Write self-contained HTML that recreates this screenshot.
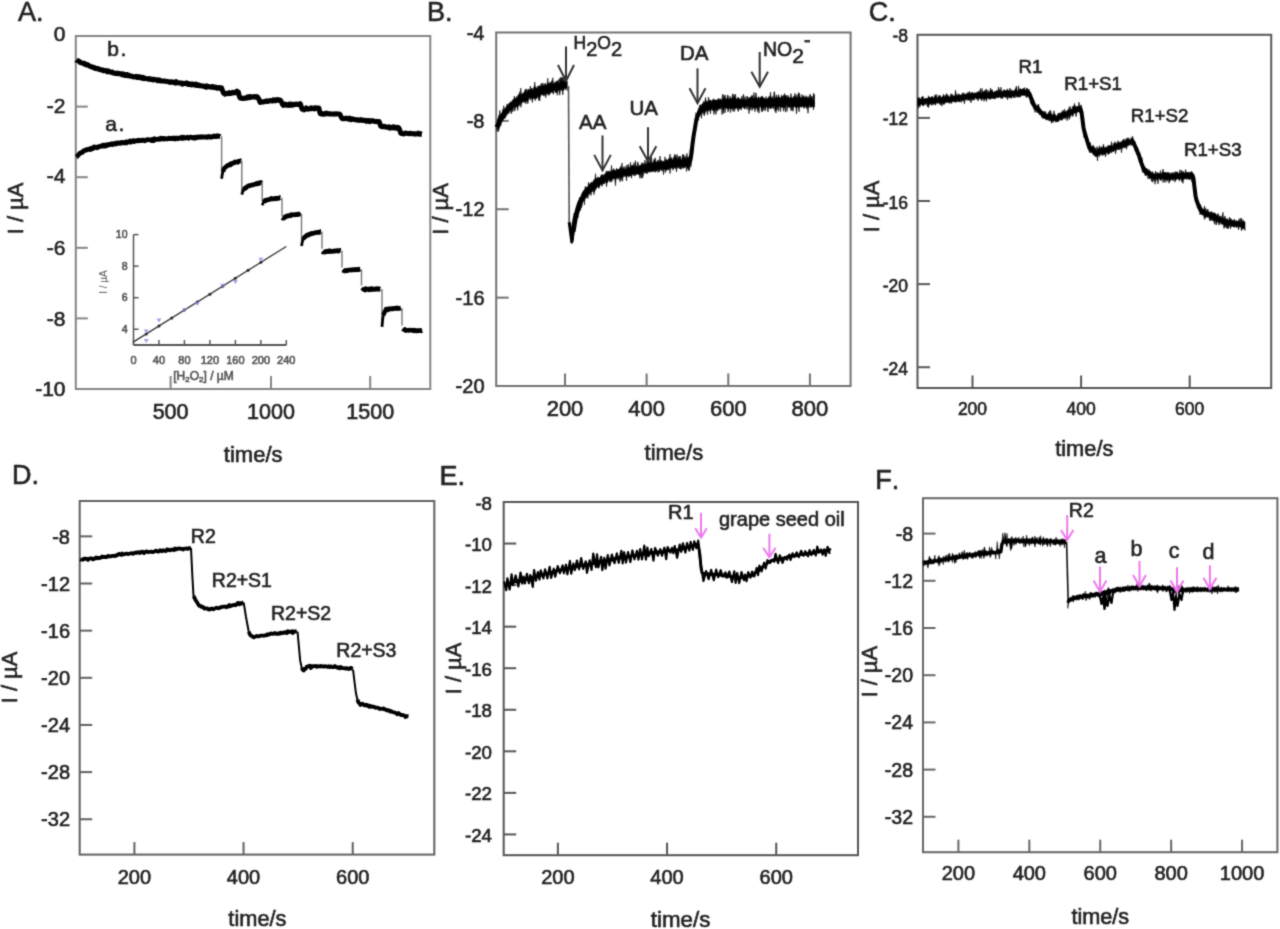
<!DOCTYPE html>
<html><head><meta charset="utf-8"><style>
html,body{margin:0;padding:0;background:#fff;}
svg{display:block;font-family:"Liberation Sans", sans-serif;font-kerning:none;}
text{stroke-width:0.6px;}
</style></head><body>
<svg width="1280" height="929" viewBox="0 0 1280 929">
<defs><filter id="bl" x="0" y="0" width="1280" height="929" filterUnits="userSpaceOnUse"><feConvolveMatrix order="3" kernelMatrix="1 4.0 1 4.0 16.0 4.0 1 4.0 1" edgeMode="duplicate" preserveAlpha="false"/></filter></defs>
<rect width="1280" height="929" fill="#fff"/>
<g filter="url(#bl)">
<text x="18" y="21.2" font-size="27" text-anchor="start" fill="#222" stroke="#222" >A.</text>
<rect x="75.8" y="36" width="354.5" height="353" fill="none" stroke="#858585" stroke-width="2"/>
<text x="65.5" y="41.16" font-size="21" text-anchor="end" fill="#222" stroke="#222" >0</text>
<line x1="75.8" y1="106.6" x2="87.8" y2="106.6" stroke="#858585" stroke-width="2"/>
<text x="65.5" y="112.66" font-size="21" text-anchor="end" fill="#222" stroke="#222" >-2</text>
<line x1="75.8" y1="177.2" x2="87.8" y2="177.2" stroke="#858585" stroke-width="2"/>
<text x="65.5" y="182.96" font-size="21" text-anchor="end" fill="#222" stroke="#222" >-4</text>
<line x1="75.8" y1="247.8" x2="87.8" y2="247.8" stroke="#858585" stroke-width="2"/>
<text x="65.5" y="254.86" font-size="21" text-anchor="end" fill="#222" stroke="#222" >-6</text>
<line x1="75.8" y1="318.4" x2="87.8" y2="318.4" stroke="#858585" stroke-width="2"/>
<text x="65.5" y="326.26" font-size="21" text-anchor="end" fill="#222" stroke="#222" >-8</text>
<text x="65.5" y="396.26" font-size="21" text-anchor="end" fill="#222" stroke="#222" >-10</text>
<line x1="170.6" y1="389" x2="170.6" y2="376" stroke="#858585" stroke-width="2"/>
<text x="170.6" y="418.5" font-size="21.5" text-anchor="middle" fill="#222" stroke="#222" >500</text>
<line x1="271" y1="389" x2="271" y2="376" stroke="#858585" stroke-width="2"/>
<text x="271" y="418.5" font-size="21.5" text-anchor="middle" fill="#222" stroke="#222" >1000</text>
<line x1="370.2" y1="389" x2="370.2" y2="376" stroke="#858585" stroke-width="2"/>
<text x="370.2" y="418.5" font-size="21.5" text-anchor="middle" fill="#222" stroke="#222" >1500</text>
<text x="253.2" y="462.3" font-size="22" text-anchor="middle" fill="#222" stroke="#222" >time/s</text>
<text x="0" y="0" font-size="21.8" text-anchor="middle" fill="#222" stroke="#222" transform="translate(23.3,208.5) rotate(-90)">I / &#181;A</text>
<path d="M76,59.91 L76.7,60.53 L77.4,60.62 L78.1,60.94 L78.8,61.07 L79.5,61.68 L80.2,62.48 L80.9,62.54 L81.6,63.05 L82.3,63.08 L83,63.43 L83.7,63.66 L84.4,63.31 L85.1,64.49 L85.8,64.67 L86.5,64.97 L87.2,64.5 L87.9,64.79 L88.6,65.39 L89.3,65.84 L90,66.41 L90.7,66.51 L91.4,66.93 L92.1,66.75 L92.8,67.3 L93.5,67.56 L94.2,67.41 L94.9,68.47 L95.6,68.29 L96.3,68.73 L97,68.32 L97.7,68.51 L98.4,68.87 L99.1,69.17 L99.8,69.66 L100.5,69.71 L101.2,69.64 L101.9,69.64 L102.6,69.97 L103.3,70.75 L104,70.22 L104.7,70.76 L105.4,71 L106.1,70.5 L106.8,71.22 L107.5,71.83 L108.2,70.84 L108.9,71.61 L109.6,71.86 L110.3,71.77 L111,72.37 L111.7,72.32 L112.4,71.97 L113.1,72.91 L113.8,72.99 L114.5,73.23 L115.2,73.54 L115.9,73.31 L116.6,73.36 L117.3,73.01 L118,73.82 L118.7,73.53 L119.4,73.72 L120.1,73.58 L120.8,73.82 L121.5,74.11 L122.2,74.89 L122.9,73.87 L123.6,74.21 L124.3,74.94 L125,75.51 L125.7,75.32 L126.4,74.57 L127.1,74.47 L127.8,75.59 L128.5,75.33 L129.2,75.31 L129.9,76.16 L130.6,76.32 L131.3,76.11 L132,76.25 L132.7,76.44 L133.4,76.96 L134.1,76.73 L134.8,76.81 L135.5,76.94 L136.2,76.32 L136.9,77.43 L137.6,77.43 L138.3,77.4 L139,76.64 L139.7,77.23 L140.4,77.85 L141.1,77.03 L141.8,77.71 L142.5,78.23 L143.2,77.52 L143.9,78.65 L144.6,78.38 L145.3,78.24 L146,78.51 L146.7,78.73 L147.4,78.65 L148.1,79.12 L148.8,78.59 L149.5,78.78 L150.2,79.39 L150.9,79.14 L151.6,78.93 L152.3,79.68 L153,79.96 L153.7,79.4 L154.4,79.18 L155.1,79.72 L155.8,79.82 L156.5,79.87 L157.2,80.57 L157.9,79.83 L158.6,80.73 L159.3,79.95 L160,80.22 L160.7,80.81 L161.4,81.07 L162.1,81.06 L162.8,80.97 L163.5,80.99 L164.2,81.08 L164.9,81.31 L165.6,81.14 L166.3,81.38 L167,81.58 L167.7,81.46 L168.4,81.82 L169.1,81.84 L169.8,82.43 L170.5,81.93 L171.2,81.75 L171.9,81.86 L172.6,82.07 L173.3,82.49 L174,82.13 L174.7,82.47 L175.4,83.07 L176.1,81.61 L176.8,82.21 L177.5,82.77 L178.2,82.91 L178.9,82.95 L179.6,82.8 L180.3,83.27 L181,83.22 L181.7,83.03 L182.4,84.15 L183.1,83.51 L183.8,83.28 L184.5,83.53 L185.2,83.57 L185.9,83.72 L186.6,82.87 L187.3,83.74 L188,84.35 L188.7,83.68 L189.4,84.15 L190.1,84.6 L190.8,84.65 L191.5,84.96 L192.2,83.93 L192.9,84.49 L193.6,84.58 L194.3,85.01 L195,85.26 L195.7,84.02 L196.4,85.43 L197.1,84.63 L197.8,85.46 L198.5,84.79 L199.2,85.46 L199.9,85.91 L200.6,85.52 L201.3,85.73 L202,86.04 L202.7,85.9 L203.4,85.91 L204.1,86.56 L204.8,86.48 L205.5,86.1 L206.2,87.26 L206.9,85.98 L207.6,86.8 L208.3,86.47 L209,86.7 L209.7,86.99 L210.4,86.91 L211.1,87.15 L211.8,86.48 L212.5,86.58 L213.2,87.41 L213.9,86.95 L214.6,87.02 L215.3,86.95 L216,88 L216.7,87.91 L217.4,88.25 L218.1,87.5 L218.8,87.92 L219.5,87.61 L220.2,88.36 L220.9,88.74 L221.6,87.96 L222.3,90.18 L223,91.85 L223.7,93.3 L224.4,93.14 L225.1,94.21 L225.8,93.59 L226.5,93.3 L227.2,93.55 L227.9,93.45 L228.6,93.73 L229.3,92.74 L230,93.4 L230.7,93.41 L231.4,93.3 L232.1,92.62 L232.8,92.32 L233.5,92.84 L234.2,92.42 L234.9,92.32 L235.6,92.67 L236.3,91.97 L237,91.16 L237.7,91.72 L238.4,92.14 L239.1,95.39 L239.8,97.52 L240.5,98.14 L241.2,98.27 L241.9,98.48 L242.6,98.14 L243.3,98.49 L244,97.93 L244.7,98.23 L245.4,98.31 L246.1,98.27 L246.8,97.39 L247.5,97.85 L248.2,96.81 L248.9,97 L249.6,96.61 L250.3,97.59 L251,96.71 L251.7,97.05 L252.4,96.91 L253.1,96.89 L253.8,96.61 L254.5,96.82 L255.2,97.28 L255.9,96.59 L256.6,96.68 L257.3,96.76 L258,97.67 L258.7,98.87 L259.4,100.69 L260.1,102.36 L260.8,101.34 L261.5,101.64 L262.2,102.13 L262.9,101.99 L263.6,101.65 L264.3,101.86 L265,101.57 L265.7,101.03 L266.4,100.83 L267.1,101.08 L267.8,101.56 L268.5,100.98 L269.2,100.79 L269.9,100.77 L270.6,100.44 L271.3,100.86 L272,100.42 L272.7,100.9 L273.4,99.88 L274.1,100.75 L274.8,100.34 L275.5,99.82 L276.2,100.69 L276.9,100.27 L277.6,99.52 L278.3,99.92 L279,100.27 L279.7,99.94 L280.4,100.3 L281.1,101.21 L281.8,102.85 L282.5,104.4 L283.2,105.44 L283.9,105.17 L284.6,105.06 L285.3,104.13 L286,105.13 L286.7,105.24 L287.4,104.64 L288.1,104.54 L288.8,105.34 L289.5,104.01 L290.2,104.75 L290.9,105.39 L291.6,104.18 L292.3,104.7 L293,105.08 L293.7,104.34 L294.4,104.54 L295.1,104.62 L295.8,103.95 L296.5,104.19 L297.2,104.29 L297.9,104.44 L298.6,104.1 L299.3,104 L300,103.67 L300.7,104.55 L301.4,107.37 L302.1,109.13 L302.8,108.75 L303.5,108.71 L304.2,109.89 L304.9,109.31 L305.6,109.09 L306.3,107.91 L307,108.99 L307.7,108.9 L308.4,109.27 L309.1,108.78 L309.8,108.57 L310.5,108.73 L311.2,107.82 L311.9,108.81 L312.6,108.52 L313.3,108.11 L314,108.78 L314.7,108.9 L315.4,107.73 L316.1,107.94 L316.8,108.23 L317.5,108.15 L318.2,107.9 L318.9,108.01 L319.6,111.54 L320.3,113.61 L321,113.2 L321.7,113.16 L322.4,114.25 L323.1,114.02 L323.8,114.32 L324.5,113.99 L325.2,113.42 L325.9,113.83 L326.6,113 L327.3,113.51 L328,113.77 L328.7,113.99 L329.4,113.57 L330.1,113.8 L330.8,114.03 L331.5,114.02 L332.2,114.12 L332.9,113.99 L333.6,113.82 L334.3,114.23 L335,113.99 L335.7,113.7 L336.4,113.79 L337.1,114.03 L337.8,114.01 L338.5,114.12 L339.2,114.08 L339.9,114.16 L340.6,115.73 L341.3,117.3 L342,118.49 L342.7,118.77 L343.4,118.62 L344.1,118.46 L344.8,118.74 L345.5,118.31 L346.2,118.05 L346.9,118.79 L347.6,118.51 L348.3,119.15 L349,118.57 L349.7,118.09 L350.4,118.71 L351.1,119.69 L351.8,119.06 L352.5,118.78 L353.2,119.05 L353.9,119.56 L354.6,119.61 L355.3,119.56 L356,120.08 L356.7,119.87 L357.4,119.68 L358.1,119.95 L358.8,120.39 L359.5,120.21 L360.2,120.29 L360.9,119.61 L361.6,120 L362.3,120.37 L363,120.07 L363.7,120.61 L364.4,120.5 L365.1,120.67 L365.8,120.34 L366.5,121.37 L367.2,120.97 L367.9,120.52 L368.6,120.69 L369.3,121.63 L370,120.66 L370.7,121.15 L371.4,121.25 L372.1,120.97 L372.8,120.62 L373.5,121.15 L374.2,121.27 L374.9,121.6 L375.6,121.54 L376.3,121.34 L377,121.69 L377.7,121.64 L378.4,121.59 L379.1,121.59 L379.8,122.97 L380.5,125.85 L381.2,126.36 L381.9,126.56 L382.6,126.84 L383.3,126.38 L384,126.79 L384.7,126.3 L385.4,126.81 L386.1,127.31 L386.8,127.36 L387.5,127.2 L388.2,127.19 L388.9,126.83 L389.6,128.02 L390.3,127.61 L391,127.87 L391.7,127.23 L392.4,127.53 L393.1,127.01 L393.8,127.97 L394.5,128.08 L395.2,127.14 L395.9,127.84 L396.6,128.14 L397.3,127.35 L398,127.38 L398.7,127.7 L399.4,129.18 L400.1,131.18 L400.8,133.32 L401.5,133.43 L402.2,133.59 L402.9,133.64 L403.6,133.95 L404.3,133.86 L405,133.03 L405.7,133.34 L406.4,133.17 L407.1,133.2 L407.8,133.57 L408.5,133.63 L409.2,133.83 L409.9,133.14 L410.6,133.29 L411.3,133.74 L412,133.71 L412.7,133.7 L413.4,133.82 L414.1,133.6 L414.8,134.14 L415.5,134.05 L416.2,133.93 L416.9,133.75 L417.6,133.95 L418.3,133.09 L419,133.73 L419.7,134.12 L420.4,133.61 L421.1,134.23 L421.8,134.24" fill="none" stroke="#000" stroke-width="5" stroke-linejoin="round" />
<text x="107.3" y="55.6" font-size="21" text-anchor="start" fill="#222" stroke="#222" letter-spacing="1.5">b.</text>
<path d="M76,157.02 L76.7,156.6 L77.4,155.76 L78.1,155.21 L78.8,154.45 L79.5,153.69 L80.2,152.98 L80.9,152.81 L81.6,152.42 L82.3,152.28 L83,151.7 L83.7,150.93 L84.4,150.38 L85.1,150.47 L85.8,150.08 L86.5,149.69 L87.2,149.79 L87.9,149.4 L88.6,149.35 L89.3,149.24 L90,148.66 L90.7,149.43 L91.4,148.32 L92.1,148.64 L92.8,148.11 L93.5,148.28 L94.2,146.88 L94.9,147.26 L95.6,147.43 L96.3,147.37 L97,147.8 L97.7,146.91 L98.4,147.06 L99.1,146.7 L99.8,146.58 L100.5,146.29 L101.2,145.93 L101.9,146.04 L102.6,145.35 L103.3,146.02 L104,145.12 L104.7,145.44 L105.4,145.97 L106.1,145.02 L106.8,144.98 L107.5,145.26 L108.2,144.73 L108.9,144.32 L109.6,144.56 L110.3,144.55 L111,144.47 L111.7,143.82 L112.4,144.58 L113.1,144.43 L113.8,143.72 L114.5,143.68 L115.2,143.33 L115.9,143.88 L116.6,143.05 L117.3,143.45 L118,142.96 L118.7,142.79 L119.4,143.2 L120.1,143.33 L120.8,142.77 L121.5,142.45 L122.2,142.88 L122.9,142.5 L123.6,142.53 L124.3,142.87 L125,142.65 L125.7,141.98 L126.4,142.87 L127.1,141.99 L127.8,142.18 L128.5,141.59 L129.2,141.71 L129.9,141.03 L130.6,142.18 L131.3,141.94 L132,140.95 L132.7,140.76 L133.4,140.63 L134.1,141.52 L134.8,140.86 L135.5,140.94 L136.2,140.79 L136.9,140.81 L137.6,140.41 L138.3,140.74 L139,140.18 L139.7,140.6 L140.4,140.68 L141.1,140.68 L141.8,140.37 L142.5,140.08 L143.2,140.4 L143.9,140.12 L144.6,140.78 L145.3,140.44 L146,140.08 L146.7,139.9 L147.4,139.76 L148.1,139.62 L148.8,139.77 L149.5,139.94 L150.2,139.96 L150.9,139.93 L151.6,140.41 L152.3,139.37 L153,139.56 L153.7,140.48 L154.4,138.79 L155.1,139.21 L155.8,139.4 L156.5,139.33 L157.2,139.37 L157.9,139.08 L158.6,139.24 L159.3,139.07 L160,139.27 L160.7,138.3 L161.4,138.62 L162.1,138.9 L162.8,138.51 L163.5,138.47 L164.2,139.02 L164.9,138.54 L165.6,138.96 L166.3,138.97 L167,138.78 L167.7,138.82 L168.4,138.57 L169.1,138.08 L169.8,138.53 L170.5,138.67 L171.2,138.29 L171.9,138.41 L172.6,138.67 L173.3,138.07 L174,138.57 L174.7,138.97 L175.4,138.09 L176.1,138.3 L176.8,138.16 L177.5,138.72 L178.2,138.26 L178.9,138.43 L179.6,137.84 L180.3,138.05 L181,138.02 L181.7,137.37 L182.4,138.46 L183.1,138.24 L183.8,137.28 L184.5,138.12 L185.2,137.78 L185.9,137.95 L186.6,137.89 L187.3,137.2 L188,137.62 L188.7,138.18 L189.4,137.43 L190.1,137.24 L190.8,137.09 L191.5,137.11 L192.2,137.62 L192.9,138.07 L193.6,137.6 L194.3,137.5 L195,138.17 L195.7,137.17 L196.4,137.09 L197.1,137.48 L197.8,137.46 L198.5,136.88 L199.2,136.79 L199.9,137.28 L200.6,137.23 L201.3,136.66 L202,137.01 L202.7,136.86 L203.4,137.18 L204.1,136.95 L204.8,136.93 L205.5,136.81 L206.2,137.27 L206.9,137.36 L207.6,136.71 L208.3,137.11 L209,136.52 L209.7,136.78 L210.4,136.98 L211.1,137.22 L211.8,136.53 L212.5,136.61 L213.2,136.67 L213.9,136.05 L214.6,136.55 L215.3,136.27 L216,136.61 L216.7,136.06 L217.4,135.73 L218.1,136.4 L218.8,136.45 L219.5,136.14 L220.2,136.61" fill="none" stroke="#000" stroke-width="4.8" stroke-linejoin="round" />
<text x="105.3" y="131" font-size="21" text-anchor="start" fill="#222" stroke="#222" letter-spacing="1.5">a.</text>
<line x1="221.6" y1="136.3" x2="221.6" y2="174.8" stroke="#777" stroke-width="1.4"/>
<path d="M221.6,178.72 L222.3,174.1 L223,171.61 L223.7,169.18" fill="none" stroke="#000" stroke-width="2.8" stroke-linejoin="round" />
<path d="M223,171.61 L223.7,169.18 L224.4,168.21 L225.1,167.53 L225.8,167.11 L226.5,166.27 L227.2,165.94 L227.9,165.24 L228.6,165.15 L229.3,165.21 L230,164.17 L230.7,164.77 L231.4,163.56 L232.1,163.47 L232.8,163.23 L233.5,163.22 L234.2,162.28 L234.9,161.77 L235.6,162.34 L236.3,162.16 L237,161.88 L237.7,162.27 L238.4,161.33 L239.1,161.14 L239.8,161.15 L240.5,160.79 L241.2,161" fill="none" stroke="#000" stroke-width="4.6" stroke-linejoin="round" />
<line x1="241.8" y1="160.5" x2="241.8" y2="191" stroke="#777" stroke-width="1.4"/>
<path d="M241.8,194.63 L242.5,192.04 L243.2,189.32 L243.9,189.42" fill="none" stroke="#000" stroke-width="2.8" stroke-linejoin="round" />
<path d="M243.2,189.32 L243.9,189.42 L244.6,188.26 L245.3,188.05 L246,187.96 L246.7,186.93 L247.4,186.52 L248.1,186.15 L248.8,185.77 L249.5,185.58 L250.2,185.71 L250.9,185.3 L251.6,185.09 L252.3,184.8 L253,184.92 L253.7,184.59 L254.4,184.21 L255.1,184.26 L255.8,183.84 L256.5,183.37 L257.2,183.98 L257.9,183.52 L258.6,182.94 L259.3,183.4 L260,183.04 L260.7,182.32 L261.4,183.14" fill="none" stroke="#000" stroke-width="4.6" stroke-linejoin="round" />
<line x1="262.2" y1="182.6" x2="262.2" y2="201.2" stroke="#777" stroke-width="1.4"/>
<path d="M262.2,205.3 L262.9,203.53 L263.6,202.12 L264.3,201.24" fill="none" stroke="#000" stroke-width="2.8" stroke-linejoin="round" />
<path d="M263.6,202.12 L264.3,201.24 L265,200.3 L265.7,200.69 L266.4,200.13 L267.1,199.81 L267.8,199.82 L268.5,199.57 L269.2,199.6 L269.9,199.15 L270.6,199.11 L271.3,198.36 L272,198.75 L272.7,198.97 L273.4,199.06 L274.1,198.44 L274.8,198.41 L275.5,198.83 L276.2,198.16 L276.9,198.39 L277.6,198.58 L278.3,198.01 L279,198.28 L279.7,197.62 L280.4,197.82" fill="none" stroke="#000" stroke-width="4.6" stroke-linejoin="round" />
<line x1="282" y1="197.7" x2="282" y2="216.3" stroke="#777" stroke-width="1.4"/>
<path d="M282,220.28 L282.7,218.96 L283.4,218.38 L284.1,218.16" fill="none" stroke="#000" stroke-width="2.8" stroke-linejoin="round" />
<path d="M283.4,218.38 L284.1,218.16 L284.8,216.82 L285.5,216.53 L286.2,216.6 L286.9,215.92 L287.6,216.19 L288.3,216.04 L289,215.63 L289.7,215.72 L290.4,214.95 L291.1,215.5 L291.8,214.68 L292.5,214.81 L293.2,214.73 L293.9,214.66 L294.6,214.92 L295.3,214.58 L296,214.33 L296.7,214.51 L297.4,214.72 L298.1,214.16 L298.8,214.17 L299.5,214.35 L300.2,213.97 L300.9,213.43" fill="none" stroke="#000" stroke-width="4.6" stroke-linejoin="round" />
<line x1="301.5" y1="213.8" x2="301.5" y2="241.2" stroke="#777" stroke-width="1.4"/>
<path d="M301.5,245.95 L302.2,242.41 L302.9,239 L303.6,238.21" fill="none" stroke="#000" stroke-width="2.8" stroke-linejoin="round" />
<path d="M302.9,239 L303.6,238.21 L304.3,237.43 L305,236.94 L305.7,236.36 L306.4,235.69 L307.1,235.12 L307.8,235.17 L308.5,235.18 L309.2,234.3 L309.9,234.08 L310.6,234.16 L311.3,233.37 L312,233.67 L312.7,233.42 L313.4,233.49 L314.1,232.96 L314.8,232.73 L315.5,232.71 L316.2,232.65 L316.9,232.3 L317.6,232.35 L318.3,232.42 L319,232.41 L319.7,232.43 L320.4,231.55 L321.1,231.53" fill="none" stroke="#000" stroke-width="4.6" stroke-linejoin="round" />
<line x1="322" y1="231.6" x2="322" y2="248.7" stroke="#777" stroke-width="1.4"/>
<path d="M322,251.96 L322.7,253 L323.4,252.02 L324.1,252.07" fill="none" stroke="#000" stroke-width="2.8" stroke-linejoin="round" />
<path d="M323.4,252.02 L324.1,252.07 L324.8,252.11 L325.5,251.44 L326.2,251.89 L326.9,251.65 L327.6,251.03 L328.3,251.59 L329,251.78 L329.7,250.79 L330.4,251.53 L331.1,251.28 L331.8,251.3 L332.5,251.22 L333.2,251.42 L333.9,250.91 L334.6,251.18 L335.3,250.74 L336,251.03 L336.7,250.52 L337.4,250.69 L338.1,251.19 L338.8,250.76 L339.5,250.54 L340.2,250.2 L340.9,250.27" fill="none" stroke="#000" stroke-width="4.6" stroke-linejoin="round" />
<line x1="342" y1="250.5" x2="342" y2="267.6" stroke="#777" stroke-width="1.4"/>
<path d="M342,271.66 L342.7,271.53 L343.4,271.14 L344.1,270.99" fill="none" stroke="#000" stroke-width="2.8" stroke-linejoin="round" />
<path d="M343.4,271.14 L344.1,270.99 L344.8,270.68 L345.5,270.98 L346.2,270.36 L346.9,270.22 L347.6,270.57 L348.3,270.25 L349,270.07 L349.7,269.91 L350.4,269.94 L351.1,270.14 L351.8,270 L352.5,269.47 L353.2,269.91 L353.9,269.78 L354.6,269.37 L355.3,269.85 L356,269.49 L356.7,269.42 L357.4,269.72 L358.1,269.83 L358.8,269.19 L359.5,269.49 L360.2,269.05" fill="none" stroke="#000" stroke-width="4.6" stroke-linejoin="round" />
<line x1="361.5" y1="269.3" x2="361.5" y2="285.6" stroke="#777" stroke-width="1.4"/>
<path d="M361.5,290.29 L362.2,289.41 L362.9,289.88 L363.6,289.29" fill="none" stroke="#000" stroke-width="2.8" stroke-linejoin="round" />
<path d="M362.9,289.88 L363.6,289.29 L364.3,289.69 L365,290.08 L365.7,288.62 L366.4,289.22 L367.1,289.47 L367.8,289.27 L368.5,289.06 L369.2,289.88 L369.9,289.23 L370.6,288.69 L371.3,289.42 L372,288.62 L372.7,289.46 L373.4,288.92 L374.1,289.11 L374.8,289.43 L375.5,289.07 L376.2,288.59 L376.9,288.48 L377.6,289.33 L378.3,289.18 L379,288.7 L379.7,289.18 L380.4,289.06" fill="none" stroke="#000" stroke-width="4.6" stroke-linejoin="round" />
<line x1="382" y1="288.9" x2="382" y2="322.6" stroke="#777" stroke-width="1.4"/>
<path d="M382,326.79 L382.7,318.73 L383.4,315.09 L384.1,312.96" fill="none" stroke="#000" stroke-width="2.8" stroke-linejoin="round" />
<path d="M383.4,315.09 L384.1,312.96 L384.8,311.43 L385.5,310.58 L386.2,309.03 L386.9,309.48 L387.6,309.36 L388.3,309.82 L389,308.66 L389.7,308.77 L390.4,308.81 L391.1,309.01 L391.8,308.55 L392.5,308.98 L393.2,308.36 L393.9,308.63 L394.6,308.35 L395.3,308.52 L396,308.23 L396.7,307.92 L397.4,308.69 L398.1,308.42 L398.8,308.13 L399.5,308.33 L400.2,308.54 L400.9,307.92" fill="none" stroke="#000" stroke-width="4.6" stroke-linejoin="round" />
<line x1="402" y1="308.2" x2="402" y2="325.6" stroke="#777" stroke-width="1.4"/>
<path d="M402,329.57 L402.7,329.97 L403.4,330.11 L404.1,329.94" fill="none" stroke="#000" stroke-width="2.8" stroke-linejoin="round" />
<path d="M403.4,330.11 L404.1,329.94 L404.8,329.48 L405.5,330.55 L406.2,330.32 L406.9,330.27 L407.6,330.22 L408.3,330.41 L409,330.24 L409.7,330.09 L410.4,330.21 L411.1,330.28 L411.8,330.3 L412.5,330.16 L413.2,330.73 L413.9,330.17 L414.6,330.78 L415.3,330.3 L416,330.74 L416.7,331.06 L417.4,330.73 L418.1,330.47 L418.8,330.73 L419.5,330.78 L420.2,330.23 L420.9,330.58 L421.6,330.83 L422.3,330.66" fill="none" stroke="#000" stroke-width="4.6" stroke-linejoin="round" />
<line x1="133.5" y1="234.6" x2="133.5" y2="345" stroke="#555" stroke-width="1.5"/>
<line x1="133.5" y1="345" x2="286.3" y2="345" stroke="#555" stroke-width="2.2"/>
<line x1="133.5" y1="329.23" x2="138.5" y2="329.23" stroke="#555" stroke-width="1.5"/>
<text x="127.5" y="332.83" font-size="10.5" text-anchor="end" fill="#555" stroke="#555" >4</text>
<line x1="133.5" y1="297.69" x2="138.5" y2="297.69" stroke="#555" stroke-width="1.5"/>
<text x="127.5" y="301.29" font-size="10.5" text-anchor="end" fill="#555" stroke="#555" >6</text>
<line x1="133.5" y1="266.14" x2="138.5" y2="266.14" stroke="#555" stroke-width="1.5"/>
<text x="127.5" y="269.74" font-size="10.5" text-anchor="end" fill="#555" stroke="#555" >8</text>
<line x1="133.5" y1="234.6" x2="138.5" y2="234.6" stroke="#555" stroke-width="1.5"/>
<text x="127.5" y="238.2" font-size="10.5" text-anchor="end" fill="#555" stroke="#555" >10</text>
<line x1="133.5" y1="345" x2="133.5" y2="340" stroke="#555" stroke-width="1.5"/>
<text x="133.5" y="364" font-size="11" text-anchor="middle" fill="#555" stroke="#555" >0</text>
<line x1="158.97" y1="345" x2="158.97" y2="340" stroke="#555" stroke-width="1.5"/>
<text x="158.97" y="364" font-size="11" text-anchor="middle" fill="#555" stroke="#555" >40</text>
<line x1="184.43" y1="345" x2="184.43" y2="340" stroke="#555" stroke-width="1.5"/>
<text x="184.43" y="364" font-size="11" text-anchor="middle" fill="#555" stroke="#555" >80</text>
<line x1="209.9" y1="345" x2="209.9" y2="340" stroke="#555" stroke-width="1.5"/>
<text x="209.9" y="364" font-size="11" text-anchor="middle" fill="#555" stroke="#555" >120</text>
<line x1="235.37" y1="345" x2="235.37" y2="340" stroke="#555" stroke-width="1.5"/>
<text x="235.37" y="364" font-size="11" text-anchor="middle" fill="#555" stroke="#555" >160</text>
<line x1="260.83" y1="345" x2="260.83" y2="340" stroke="#555" stroke-width="1.5"/>
<text x="260.83" y="364" font-size="11" text-anchor="middle" fill="#555" stroke="#555" >200</text>
<line x1="286.3" y1="345" x2="286.3" y2="340" stroke="#555" stroke-width="1.5"/>
<text x="286.3" y="364" font-size="11" text-anchor="middle" fill="#555" stroke="#555" >240</text>
<text x="203.5" y="379.5" font-size="12" text-anchor="middle" fill="#555" stroke="#555">[H<tspan font-size="8" dy="2.5">2</tspan><tspan dy="-2.5">O</tspan><tspan font-size="8" dy="2.5">2</tspan><tspan dy="-2.5">] / &#181;M</tspan></text>
<text x="0" y="0" font-size="10" text-anchor="middle" fill="#555" transform="translate(107,282) rotate(-90)">I / &#181;A</text>
<line x1="133.5" y1="341.85" x2="286.3" y2="246.43" stroke="#333" stroke-width="1.3"/>
<circle cx="146.23" cy="333.89" r="1.5" fill="#222"/>
<circle cx="158.97" cy="325.94" r="1.5" fill="#222"/>
<circle cx="171.7" cy="317.99" r="1.5" fill="#222"/>
<circle cx="184.43" cy="310.04" r="1.5" fill="#222"/>
<circle cx="197.17" cy="302.09" r="1.5" fill="#222"/>
<circle cx="209.9" cy="294.14" r="1.5" fill="#222"/>
<circle cx="222.63" cy="286.19" r="1.5" fill="#222"/>
<circle cx="235.37" cy="278.23" r="1.5" fill="#222"/>
<circle cx="248.1" cy="270.28" r="1.5" fill="#222"/>
<circle cx="260.83" cy="262.33" r="1.5" fill="#222"/>
<path d="M143.73,329.59 L148.73,329.59 L146.23,333.59 Z" fill="#8a8ae0" opacity="0.8"/>
<path d="M143.73,339.06 L148.73,339.06 L146.23,343.06 Z" fill="#8a8ae0" opacity="0.8"/>
<path d="M156.47,318.55 L161.47,318.55 L158.97,322.55 Z" fill="#8a8ae0" opacity="0.8"/>
<path d="M181.93,308.3 L186.93,308.3 L184.43,312.3 Z" fill="#8a8ae0" opacity="0.8"/>
<path d="M194.67,301.99 L199.67,301.99 L197.17,305.99 Z" fill="#8a8ae0" opacity="0.8"/>
<path d="M220.13,283.86 L225.13,283.86 L222.63,287.86 Z" fill="#8a8ae0" opacity="0.8"/>
<path d="M232.87,279.91 L237.87,279.91 L235.37,283.91 Z" fill="#8a8ae0" opacity="0.8"/>
<path d="M258.33,257.83 L263.33,257.83 L260.83,261.83 Z" fill="#8a8ae0" opacity="0.8"/>
<text x="427" y="20.6" font-size="27" text-anchor="start" fill="#222" stroke="#222" >B.</text>
<rect x="496.2" y="32.5" width="354.4" height="353.5" fill="none" stroke="#727272" stroke-width="2"/>
<text x="484.5" y="39.7" font-size="20" text-anchor="end" fill="#222" stroke="#222" >-4</text>
<line x1="496.2" y1="120.88" x2="508.7" y2="120.88" stroke="#727272" stroke-width="2"/>
<text x="484.5" y="128.07" font-size="20" text-anchor="end" fill="#222" stroke="#222" >-8</text>
<line x1="496.2" y1="209.25" x2="508.7" y2="209.25" stroke="#727272" stroke-width="2"/>
<text x="484.5" y="216.45" font-size="20" text-anchor="end" fill="#222" stroke="#222" >-12</text>
<line x1="496.2" y1="297.62" x2="508.7" y2="297.62" stroke="#727272" stroke-width="2"/>
<text x="484.5" y="304.82" font-size="20" text-anchor="end" fill="#222" stroke="#222" >-16</text>
<text x="484.5" y="393.2" font-size="20" text-anchor="end" fill="#222" stroke="#222" >-20</text>
<line x1="565" y1="386" x2="565" y2="373.5" stroke="#727272" stroke-width="2"/>
<text x="565" y="416.2" font-size="22" text-anchor="middle" fill="#222" stroke="#222" >200</text>
<line x1="646.64" y1="386" x2="646.64" y2="373.5" stroke="#727272" stroke-width="2"/>
<text x="646.64" y="416.2" font-size="22" text-anchor="middle" fill="#222" stroke="#222" >400</text>
<line x1="728.28" y1="386" x2="728.28" y2="373.5" stroke="#727272" stroke-width="2"/>
<text x="728.28" y="416.2" font-size="22" text-anchor="middle" fill="#222" stroke="#222" >600</text>
<line x1="809.92" y1="386" x2="809.92" y2="373.5" stroke="#727272" stroke-width="2"/>
<text x="809.92" y="416.2" font-size="22" text-anchor="middle" fill="#222" stroke="#222" >800</text>
<text x="673.9" y="460.4" font-size="22" text-anchor="middle" fill="#222" stroke="#222" >time/s</text>
<text x="0" y="0" font-size="21.8" text-anchor="middle" fill="#222" stroke="#222" transform="translate(447.5,209) rotate(-90)">I / &#181;A</text>
<path d="M496.8,127.52 L497.8,125.38 L498.8,123.04 L499.8,120.74 L500.8,118.98 L501.8,117.21 L502.8,115.79 L503.8,114.22 L504.8,112.71 L505.8,111.59 L506.8,110.05 L507.8,109.4 L508.8,108.42 L509.8,107.06 L510.8,106.28 L511.8,105.37 L512.8,104.38 L513.8,104.34 L514.8,102.22 L515.8,102.23 L516.8,101.03 L517.8,101.16 L518.8,100.95 L519.8,98.69 L520.8,98.95 L521.8,98.59 L522.8,97.87 L523.8,97.64 L524.8,96.32 L525.8,96.77 L526.8,96.15 L527.8,95.56 L528.8,94.9 L529.8,94.79 L530.8,94.08 L531.8,93.94 L532.8,93.38 L533.8,92.51 L534.8,92.83 L535.8,92.55 L536.8,92.37 L537.8,91.54 L538.8,91.44 L539.8,91.29 L540.8,90.81 L541.8,90.79 L542.8,90.67 L543.8,89.53 L544.8,88.97 L545.8,89.56 L546.8,89.51 L547.8,89.08 L548.8,88.79 L549.8,88.11 L550.8,87.84 L551.8,88.07 L552.8,87.28 L553.8,86.76 L554.8,86.75 L555.8,87.59 L556.8,87.22 L557.8,86.23 L558.8,86.02 L559.8,86.11 L560.8,85.62 L561.8,86.03 L562.8,85.42 L563.8,84.91 L564.8,85.43 L565.8,84.67 L566.8,84.71" fill="none" stroke="#000" stroke-width="5" stroke-linejoin="round" />
<path d="M496.8,122.99 L497.3,119.98 L497.8,118.19 L498.3,118.39 L498.8,115.13 L499.3,117.35 L499.8,110.35 L500.3,115.32 L500.8,114.5 L501.3,112.69 L501.8,114.3 L502.3,113.23 L502.8,109.27 L503.3,110.97 L503.8,105.72 L504.3,111.05 L504.8,110.23 L505.3,107.62 L505.8,108.02 L506.3,107.5 L506.8,104.45 L507.3,103.91 L507.8,105.77 L508.3,106.02 L508.8,103.58 L509.3,102.87 L509.8,103.68 L510.3,102.12 L510.8,101.5 L511.3,103.05 L511.8,102.2 L512.3,100.26 L512.8,100.69 L513.3,99.02 L513.8,100.27 L514.3,96.01 L514.8,98.75 L515.3,97.83 L515.8,98.95 L516.3,98.45 L516.8,96.19 L517.3,97.01 L517.8,96.87 L518.3,94.23 L518.8,94.57 L519.3,95.15 L519.8,91.68 L520.3,94.98 L520.8,88.09 L521.3,94 L521.8,94.48 L522.3,93.74 L522.8,93.19 L523.3,93.19 L523.8,92.52 L524.3,92.79 L524.8,90.07 L525.3,91.67 L525.8,88.72 L526.3,93.55 L526.8,89.39 L527.3,92.28 L527.8,89.64 L528.3,89.46 L528.8,89.09 L529.3,89.98 L529.8,91 L530.3,86.09 L530.8,89.4 L531.3,88.21 L531.8,89.95 L532.3,88.32 L532.8,89.96 L533.3,89.91 L533.8,87.26 L534.3,86.46 L534.8,82.06 L535.3,88.92 L535.8,86.63 L536.3,88.08 L536.8,88 L537.3,88.66 L537.8,86.04 L538.3,86.27 L538.8,86.14 L539.3,85.59 L539.8,86.58 L540.3,86.29 L540.8,84.98 L541.3,83.37 L541.8,86.03 L542.3,85.89 L542.8,82.87 L543.3,85.1 L543.8,86.34 L544.3,84.14 L544.8,85.55 L545.3,83.01 L545.8,84.85 L546.3,85.39 L546.8,84.62 L547.3,83.06 L547.8,78.17 L548.3,85.52 L548.8,82.68 L549.3,84.14 L549.8,82.75 L550.3,81.98 L550.8,82.43 L551.3,83.9 L551.8,80.59 L552.3,82.75 L552.8,77.72 L553.3,82.62 L553.8,84.01 L554.3,83.84 L554.8,82.1 L555.3,81.89 L555.8,84.02 L556.3,80.98 L556.8,82.1 L557.3,80.74 L557.8,82.43 L558.3,79.63 L558.8,84.34 L559.3,82.79 L559.8,78.16 L560.3,81.57 L560.8,76.95 L561.3,78.35 L561.8,78.89 L562.3,77.06 L562.8,81.7 L563.3,80.49 L563.8,74.95 L564.3,79.78 L564.8,81.08 L565.3,80.35 L565.8,80.76 L566.3,80.9 L566.8,80.88 L567.3,81.48 L567.3,90.73 L566.8,88.51 L566.3,88.06 L565.8,88.55 L565.3,89.78 L564.8,87.19 L564.3,88.53 L563.8,90.3 L563.3,89.87 L562.8,94.94 L562.3,89.89 L561.8,90.71 L561.3,88.96 L560.8,89.7 L560.3,90.58 L559.8,95.19 L559.3,93.55 L558.8,89.67 L558.3,90.31 L557.8,91.06 L557.3,95.35 L556.8,91.99 L556.3,92.6 L555.8,91.74 L555.3,93.02 L554.8,90.28 L554.3,90.94 L553.8,91.15 L553.3,94.4 L552.8,90.74 L552.3,92.94 L551.8,92.19 L551.3,91.53 L550.8,93.15 L550.3,92.4 L549.8,94.49 L549.3,92.77 L548.8,95.53 L548.3,93.42 L547.8,94.54 L547.3,92.86 L546.8,93.46 L546.3,94.59 L545.8,97.75 L545.3,94.7 L544.8,95.5 L544.3,92.33 L543.8,96.13 L543.3,94.9 L542.8,95.03 L542.3,94.76 L541.8,94.38 L541.3,94.24 L540.8,95.88 L540.3,96.17 L539.8,100.83 L539.3,97.32 L538.8,100.62 L538.3,97.26 L537.8,96.55 L537.3,97.73 L536.8,98.41 L536.3,98.44 L535.8,97.73 L535.3,100.7 L534.8,98.4 L534.3,98.81 L533.8,97.58 L533.3,98.63 L532.8,99.51 L532.3,102.58 L531.8,98.11 L531.3,98.94 L530.8,97.35 L530.3,100.19 L529.8,97.89 L529.3,97.31 L528.8,98.83 L528.3,100.74 L527.8,103.86 L527.3,100.51 L526.8,101.88 L526.3,100.6 L525.8,103.92 L525.3,101.17 L524.8,101.01 L524.3,102.39 L523.8,101.73 L523.3,101.61 L522.8,102.97 L522.3,101.02 L521.8,102.45 L521.3,105.32 L520.8,107.33 L520.3,102.29 L519.8,104.85 L519.3,104.98 L518.8,106.2 L518.3,105.11 L517.8,110.46 L517.3,107.4 L516.8,107.36 L516.3,106.64 L515.8,106.53 L515.3,108.7 L514.8,111.12 L514.3,107.26 L513.8,106.72 L513.3,109.45 L512.8,111.85 L512.3,108.92 L511.8,110.11 L511.3,113.76 L510.8,112.59 L510.3,110.04 L509.8,110.55 L509.3,111.01 L508.8,113.58 L508.3,112.9 L507.8,114.07 L507.3,112.52 L506.8,115.76 L506.3,114.3 L505.8,116.36 L505.3,118.28 L504.8,117.38 L504.3,118.68 L503.8,117.38 L503.3,120.07 L502.8,120.92 L502.3,121.39 L501.8,121.17 L501.3,122.2 L500.8,126.24 L500.3,124.41 L499.8,124.17 L499.3,127.45 L498.8,130.21 L498.3,131.66 L497.8,129.71 L497.3,128.62 L496.8,131.69 Z" fill="#000" stroke="#000" stroke-width="0.6" stroke-linejoin="round"/>
<line x1="568.5" y1="86" x2="569.2" y2="222" stroke="#555" stroke-width="1.6"/>
<path d="M569.2,222 L571.8,242 L574,226" fill="none" stroke="#000" stroke-width="3" stroke-linejoin="round" />
<path d="M573,231.65 L574,225.94 L575,219.75 L576,214.43 L577,212.21 L578,208.48 L579,205.23 L580,202.46 L581,200.83 L582,198.96 L583,197.41 L584,194.88 L585,193.79 L586,192.18 L587,191.46 L588,190.37 L589,188.49 L590,188.02 L591,187.55 L592,187.08 L593,186 L594,184.91 L595,183.85 L596,183.22 L597,182.71 L598,182.35 L599,181.7 L600,181.62 L601,180.6 L602,179.6 L603,179.79 L604,179.01 L605,178.16 L606,177.32 L607,176.38 L608,176.24 L609,176.57 L610,175.8 L611,175.39 L612,175.59 L613,175.35 L614,175.21 L615,174.97 L616,174.94 L617,174.01 L618,174.3 L619,173.46 L620,173.71 L621,173.31 L622,173.08 L623,173.05 L624,172.51 L625,172.61 L626,172.29 L627,171.82 L628,171.37 L629,171.06 L630,170.89 L631,170.74 L632,170.62 L633,171.34 L634,170.46 L635,170.32 L636,169.66 L637,169.53 L638,169.47 L639,169.45 L640,168.9 L641,169.52 L642,168.69 L643,169.01 L644,167.81 L645,168.33 L646,168.24 L647,168.03 L648,167.98 L649,167.71 L650,167.5 L651,166.7 L652,166.88 L653,166.21 L654,166.93 L655,166.66 L656,166.33 L657,165.97 L658,165.87 L659,166.42 L660,166.22 L661,165.51 L662,165.74 L663,164.7 L664,164.42 L665,164.68 L666,164.39 L667,164.31 L668,164.36 L669,165.04 L670,163.76 L671,163.8 L672,163.69 L673,163.43 L674,163.54 L675,163.62 L676,162.54 L677,162.79 L678,162.49 L679,162.63 L680,162.11 L681,162.09 L682,161.97 L683,162.86 L684,162.81 L685,162.82 L686,162.13 L687,162.78 L688,162.71 L689,162.55" fill="none" stroke="#000" stroke-width="5" stroke-linejoin="round" />
<path d="M573,226.58 L573.5,220.89 L574,221.89 L574.5,218.38 L575,214.19 L575.5,213.48 L576,210.77 L576.5,208.43 L577,206.98 L577.5,205.81 L578,204.36 L578.5,201.89 L579,199.9 L579.5,197.31 L580,198.49 L580.5,198.1 L581,196.72 L581.5,194.49 L582,194.2 L582.5,192.01 L583,191.85 L583.5,190.58 L584,191.17 L584.5,189.86 L585,187.88 L585.5,186.11 L586,187.46 L586.5,187.7 L587,188.12 L587.5,187.82 L588,186.53 L588.5,182.28 L589,185.13 L589.5,184.18 L590,183.85 L590.5,182.85 L591,183.04 L591.5,183 L592,181.67 L592.5,183.31 L593,182.22 L593.5,180.28 L594,181.42 L594.5,179.14 L595,179.09 L595.5,173.69 L596,179 L596.5,178.16 L597,178.23 L597.5,177.39 L598,177.28 L598.5,177.26 L599,178.13 L599.5,178.03 L600,177.23 L600.5,176.75 L601,175.19 L601.5,174.64 L602,175.59 L602.5,175.05 L603,174.26 L603.5,177.42 L604,174.54 L604.5,174.31 L605,174.08 L605.5,174.08 L606,171.74 L606.5,171.09 L607,170.91 L607.5,172.22 L608,171.75 L608.5,170.94 L609,172.21 L609.5,171.33 L610,170.59 L610.5,171.94 L611,172.47 L611.5,165.32 L612,170.95 L612.5,170.08 L613,170.65 L613.5,168.58 L614,169.43 L614.5,169.91 L615,170.36 L615.5,171.17 L616,169.76 L616.5,168.17 L617,170.04 L617.5,169.62 L618,168.94 L618.5,169.65 L619,169.17 L619.5,168.36 L620,168.74 L620.5,166.34 L621,168.28 L621.5,167.4 L622,162.92 L622.5,169.08 L623,169.15 L623.5,166.88 L624,168.32 L624.5,169.86 L625,166.25 L625.5,168.64 L626,169.43 L626.5,168.02 L627,164.76 L627.5,167.83 L628,167.64 L628.5,164.37 L629,168.09 L629.5,167.45 L630,167.33 L630.5,162.13 L631,167.39 L631.5,165.43 L632,165.69 L632.5,165.83 L633,164.86 L633.5,166.18 L634,162.43 L634.5,165.68 L635,166.73 L635.5,160.53 L636,166.01 L636.5,166.16 L637,167.18 L637.5,163.12 L638,161.85 L638.5,165.9 L639,166.62 L639.5,165.87 L640,164.72 L640.5,165.15 L641,165.67 L641.5,164.02 L642,162.48 L642.5,165.33 L643,162.95 L643.5,164.62 L644,164.43 L644.5,163.16 L645,160.06 L645.5,164.56 L646,164.39 L646.5,163.2 L647,160.48 L647.5,162.88 L648,160.87 L648.5,160.76 L649,160.05 L649.5,163.5 L650,162.53 L650.5,157.91 L651,163.93 L651.5,156.68 L652,163.14 L652.5,163.12 L653,162.15 L653.5,161.44 L654,159.41 L654.5,161.51 L655,157.75 L655.5,158.69 L656,162.63 L656.5,161.96 L657,161.64 L657.5,160.61 L658,161.45 L658.5,159.84 L659,161.82 L659.5,161.73 L660,156.08 L660.5,159.86 L661,162.27 L661.5,160.26 L662,160.96 L662.5,161.51 L663,161.29 L663.5,161 L664,161.79 L664.5,161.57 L665,156.79 L665.5,160.74 L666,159.66 L666.5,159.61 L667,159.5 L667.5,161.2 L668,159.93 L668.5,158.7 L669,158.71 L669.5,157.87 L670,153.95 L670.5,158.86 L671,158.82 L671.5,157.52 L672,158.87 L672.5,160.19 L673,159.32 L673.5,157.16 L674,159.72 L674.5,154.28 L675,156.31 L675.5,155.01 L676,157.59 L676.5,158.59 L677,154.28 L677.5,158.13 L678,159.23 L678.5,157.56 L679,156.02 L679.5,157.34 L680,156.38 L680.5,156.46 L681,159.14 L681.5,160.82 L682,158.89 L682.5,154.48 L683,158.78 L683.5,154.44 L684,157.62 L684.5,158.2 L685,155.53 L685.5,159.08 L686,157.67 L686.5,157.16 L687,153.27 L687.5,157.77 L688,157.42 L688.5,156.69 L689,157.66 L689.5,159.51 L689.5,167.34 L689,166.89 L688.5,170.94 L688,166.66 L687.5,168.42 L687,168.04 L686.5,171.53 L686,165.75 L685.5,167.12 L685,167.17 L684.5,167.53 L684,168.19 L683.5,168.39 L683,167.02 L682.5,166.99 L682,167.92 L681.5,169.19 L681,165.79 L680.5,169.36 L680,167.21 L679.5,168.7 L679,166.4 L678.5,167.27 L678,168.28 L677.5,166.98 L677,167.55 L676.5,172.02 L676,166.13 L675.5,168.55 L675,168.55 L674.5,166.79 L674,168.38 L673.5,168.54 L673,170.29 L672.5,167.62 L672,168.61 L671.5,167.77 L671,168.27 L670.5,168.53 L670,173.62 L669.5,167.76 L669,169.45 L668.5,169.61 L668,168.53 L667.5,170.23 L667,170.11 L666.5,170.27 L666,169.07 L665.5,172.71 L665,170.22 L664.5,168.98 L664,169.49 L663.5,174.7 L663,170.15 L662.5,168.7 L662,171.11 L661.5,170.57 L661,169.52 L660.5,169.73 L660,168.86 L659.5,171.97 L659,171.13 L658.5,169.25 L658,172.49 L657.5,169.59 L657,170.96 L656.5,170.79 L656,171.13 L655.5,172.31 L655,169.89 L654.5,171.82 L654,171.6 L653.5,170.92 L653,171.37 L652.5,172.05 L652,171.41 L651.5,171.7 L651,170.14 L650.5,172.32 L650,171.5 L649.5,172.04 L649,171.73 L648.5,171.89 L648,171.86 L647.5,173.6 L647,170.86 L646.5,173.37 L646,173.51 L645.5,172.8 L645,173.09 L644.5,172.92 L644,170.48 L643.5,174.59 L643,176.39 L642.5,178.04 L642,171.31 L641.5,178.26 L641,173.53 L640.5,174.98 L640,178.34 L639.5,175.7 L639,173.86 L638.5,174.79 L638,173.74 L637.5,174.09 L637,174.45 L636.5,174.35 L636,173.8 L635.5,175.05 L635,176.05 L634.5,175.8 L634,173.93 L633.5,174.61 L633,175.48 L632.5,174.32 L632,174.36 L631.5,178.21 L631,176.37 L630.5,175.58 L630,176.21 L629.5,176.17 L629,176.54 L628.5,176.79 L628,176.06 L627.5,175.71 L627,175.52 L626.5,180.82 L626,176.55 L625.5,175.91 L625,176.82 L624.5,174.87 L624,176.17 L623.5,177.14 L623,175.06 L622.5,181.42 L622,177.89 L621.5,177.75 L621,180.4 L620.5,177.91 L620,181.78 L619.5,177.38 L619,176.98 L618.5,178.35 L618,179.5 L617.5,177.89 L617,178.12 L616.5,178.38 L616,178.33 L615.5,185.68 L615,181.54 L614.5,178.32 L614,178.31 L613.5,179.11 L613,178.94 L612.5,178.71 L612,181.54 L611.5,180.28 L611,181.61 L610.5,182.33 L610,180.35 L609.5,181.36 L609,179.87 L608.5,179.37 L608,182 L607.5,182.44 L607,183.14 L606.5,186.69 L606,181.92 L605.5,180.88 L605,183.14 L604.5,183.48 L604,184.15 L603.5,183.73 L603,183.18 L602.5,184.6 L602,186.5 L601.5,183.87 L601,184.74 L600.5,184.32 L600,185.63 L599.5,186.48 L599,188.45 L598.5,187.49 L598,187.59 L597.5,186.56 L597,187.06 L596.5,187.9 L596,189.31 L595.5,188.09 L595,191.36 L594.5,191.35 L594,194.62 L593.5,189.36 L593,191.92 L592.5,189.02 L592,192.06 L591.5,191.86 L591,195.58 L590.5,192.79 L590,192.56 L589.5,194.44 L589,193.94 L588.5,194.24 L588,198.44 L587.5,197.28 L587,195.35 L586.5,197.81 L586,198.5 L585.5,198.39 L585,196.55 L584.5,205.01 L584,199.76 L583.5,200.7 L583,200.39 L582.5,201.67 L582,206.03 L581.5,207.69 L581,206.15 L580.5,210.34 L580,209.03 L579.5,210.79 L579,209.47 L578.5,210.83 L578,217.92 L577.5,214.19 L577,215.67 L576.5,217.31 L576,223.26 L575.5,220.3 L575,225.88 L574.5,232.3 L574,230.34 L573.5,237.89 L573,240.64 Z" fill="#000" stroke="#000" stroke-width="0.6" stroke-linejoin="round"/>
<path d="M689.5,163.01 L690.5,159.77 L691.5,153.49 L692.5,144.14 L693.5,136.63 L694.5,130.77 L695.5,124.84 L696.5,118.7 L697.5,116.29 L698.5,114.1 L699.5,111.9 L700.5,110.62 L701.5,109.21 L702.5,108.11 L703.5,107.4 L704.5,106.46 L705.5,106.48 L706.5,106.16 L707.5,105.96 L708.5,105.86 L709.5,105.39 L710.5,105.25 L711.5,104.63 L712.5,104.98 L713.5,104.57 L714.5,104.83 L715.5,103.78 L716.5,104.25 L717.5,104.44 L718.5,103.54 L719.5,104.03 L720.5,104.05 L721.5,103.93 L722.5,103.36 L723.5,103.74 L724.5,103.6 L725.5,103.2 L726.5,103.67 L727.5,103.42 L728.5,103.41 L729.5,103.24 L730.5,103.5 L731.5,103.35 L732.5,103.62 L733.5,103.39 L734.5,103.06 L735.5,103.14 L736.5,103.44 L737.5,103.04 L738.5,103.23 L739.5,103.25 L740.5,103.01 L741.5,102.36 L742.5,103.05 L743.5,103.04 L744.5,102.99 L745.5,102.71 L746.5,103.25 L747.5,102.83 L748.5,102.66 L749.5,102.61 L750.5,102.9 L751.5,102.46 L752.5,102.47 L753.5,103.32 L754.5,103.11 L755.5,103.01 L756.5,103.09 L757.5,102.85 L758.5,102.17 L759.5,102.99 L760.5,102.98 L761.5,102.75 L762.5,102.02 L763.5,102.94 L764.5,102.95 L765.5,102.4 L766.5,102.56 L767.5,102.73 L768.5,102.47 L769.5,102.79 L770.5,102.48 L771.5,102.64 L772.5,102.45 L773.5,101.98 L774.5,102.1 L775.5,103.3 L776.5,102.44 L777.5,102.72 L778.5,102.66 L779.5,102.81 L780.5,102.46 L781.5,102.13 L782.5,102.31 L783.5,101.74 L784.5,102.25 L785.5,102.56 L786.5,101.67 L787.5,102.36 L788.5,102.54 L789.5,102.69 L790.5,102.03 L791.5,102.11 L792.5,101.75 L793.5,102 L794.5,102.46 L795.5,102.9 L796.5,101.97 L797.5,102.7 L798.5,102.42 L799.5,102.16 L800.5,102.94 L801.5,101.57 L802.5,102.28 L803.5,102.36 L804.5,102.92 L805.5,102.82 L806.5,102.96 L807.5,102.34 L808.5,102.59 L809.5,102.7 L810.5,102.45 L811.5,102.4 L812.5,102.25 L813.5,102.18 L814.5,101.94" fill="none" stroke="#000" stroke-width="4" stroke-linejoin="round" />
<path d="M689.5,160.14 L690,150.7 L690.5,147.97 L691,153.45 L691.5,143.76 L692,145.62 L692.5,140.36 L693,132.74 L693.5,131.4 L694,129.08 L694.5,126.18 L695,122.57 L695.5,118.98 L696,112.54 L696.5,116.66 L697,113.8 L697.5,111.87 L698,110.19 L698.5,108.34 L699,108.32 L699.5,105.5 L700,105.27 L700.5,105.52 L701,104.34 L701.5,106.93 L702,104.09 L702.5,103.53 L703,103.86 L703.5,101.3 L704,102.51 L704.5,102.53 L705,100.85 L705.5,97.4 L706,100.14 L706.5,101.53 L707,101.63 L707.5,101.6 L708,101.92 L708.5,96.94 L709,100.35 L709.5,100.06 L710,99.89 L710.5,100.33 L711,101.56 L711.5,101.21 L712,100.02 L712.5,100.64 L713,99.45 L713.5,98.75 L714,100.4 L714.5,99.46 L715,100.16 L715.5,100.36 L716,100.31 L716.5,99.71 L717,99.66 L717.5,100.48 L718,99.15 L718.5,98.16 L719,99.75 L719.5,99.64 L720,98.69 L720.5,99.54 L721,98.86 L721.5,100.68 L722,99.75 L722.5,94.17 L723,99.57 L723.5,97.81 L724,94.74 L724.5,99.25 L725,95 L725.5,98.2 L726,99.42 L726.5,98.49 L727,98.21 L727.5,95.11 L728,94.97 L728.5,99.3 L729,98.58 L729.5,99.98 L730,96.15 L730.5,98.49 L731,97.99 L731.5,98.38 L732,98.83 L732.5,93.89 L733,95.17 L733.5,97.88 L734,94.16 L734.5,97.97 L735,96.77 L735.5,94.15 L736,99.2 L736.5,98.92 L737,98.94 L737.5,98.29 L738,97.13 L738.5,97.79 L739,98.26 L739.5,99.68 L740,98.62 L740.5,98.67 L741,99.83 L741.5,98.45 L742,95.81 L742.5,99.01 L743,100.63 L743.5,94.12 L744,96.8 L744.5,97.78 L745,100.4 L745.5,99.58 L746,96.27 L746.5,98.89 L747,100.56 L747.5,96.16 L748,97.49 L748.5,98.19 L749,99.18 L749.5,97.39 L750,97.27 L750.5,97.95 L751,97.07 L751.5,95.53 L752,97.45 L752.5,95.44 L753,98.48 L753.5,98.53 L754,92.42 L754.5,97.85 L755,97.97 L755.5,97.25 L756,92.78 L756.5,97.02 L757,97.69 L757.5,98.78 L758,97.93 L758.5,96.74 L759,96.88 L759.5,99.77 L760,97.74 L760.5,97.24 L761,97.58 L761.5,96.44 L762,96.37 L762.5,96.26 L763,97.42 L763.5,98.1 L764,97.66 L764.5,98.64 L765,98.41 L765.5,99.89 L766,96.47 L766.5,98.01 L767,98.7 L767.5,99.13 L768,98.23 L768.5,97.45 L769,96.23 L769.5,98.28 L770,96.57 L770.5,92.03 L771,96.83 L771.5,97.49 L772,98.1 L772.5,96.53 L773,99.58 L773.5,98.87 L774,91.85 L774.5,91.8 L775,97.11 L775.5,98.31 L776,97.33 L776.5,94.77 L777,98.21 L777.5,97.33 L778,96.92 L778.5,94.55 L779,96.41 L779.5,97.72 L780,97.04 L780.5,99.54 L781,97.33 L781.5,94.84 L782,97.81 L782.5,96.01 L783,99.03 L783.5,94.99 L784,96.78 L784.5,93.43 L785,95.11 L785.5,95.28 L786,96.51 L786.5,95.54 L787,97.83 L787.5,97.52 L788,95.21 L788.5,96.57 L789,97.67 L789.5,97.64 L790,97.62 L790.5,97.93 L791,93.54 L791.5,97 L792,97.91 L792.5,97.69 L793,98.43 L793.5,96.31 L794,97.34 L794.5,96.03 L795,93.33 L795.5,97.29 L796,96.76 L796.5,97.17 L797,94.39 L797.5,98.57 L798,97.52 L798.5,92.49 L799,97.17 L799.5,93.28 L800,96.52 L800.5,97.76 L801,97.91 L801.5,97.17 L802,94.41 L802.5,97.43 L803,96.85 L803.5,96.62 L804,95.43 L804.5,97.84 L805,97.11 L805.5,96.82 L806,97.95 L806.5,95.64 L807,97.49 L807.5,97.66 L808,97.12 L808.5,96.41 L809,98.84 L809.5,97.42 L810,94.09 L810.5,95.12 L811,97.46 L811.5,97.51 L812,96.01 L812.5,97.79 L813,100.13 L813.5,93.04 L814,97.7 L814.5,94.45 L814.5,107.13 L814,104.41 L813.5,109.96 L813,106.3 L812.5,106.9 L812,107.04 L811.5,106.45 L811,107.67 L810.5,107.19 L810,106.08 L809.5,104.76 L809,107.63 L808.5,106.5 L808,113.34 L807.5,107.83 L807,106.87 L806.5,108.72 L806,105.73 L805.5,106.85 L805,106.84 L804.5,107.5 L804,108.53 L803.5,107.69 L803,105.94 L802.5,106.06 L802,107.06 L801.5,107.09 L801,107.32 L800.5,106.78 L800,106.61 L799.5,107.47 L799,111.89 L798.5,107.17 L798,107.56 L797.5,107.11 L797,107.67 L796.5,114.05 L796,107.73 L795.5,107.33 L795,107.14 L794.5,105.95 L794,107.18 L793.5,106.76 L793,111.34 L792.5,105.84 L792,110.46 L791.5,105.77 L791,110.72 L790.5,105.63 L790,107.85 L789.5,106.76 L789,106.95 L788.5,107.16 L788,106.94 L787.5,106.45 L787,111.56 L786.5,105.21 L786,104.05 L785.5,112.19 L785,106.95 L784.5,106.97 L784,109.04 L783.5,111.33 L783,106.24 L782.5,107.55 L782,107.61 L781.5,106.17 L781,107.78 L780.5,111.69 L780,107.35 L779.5,106.19 L779,106.75 L778.5,111.39 L778,107.44 L777.5,106.47 L777,110.14 L776.5,107.62 L776,113.11 L775.5,108.9 L775,111.46 L774.5,106.53 L774,105.93 L773.5,108.88 L773,108.03 L772.5,106.89 L772,106.53 L771.5,108.14 L771,109.04 L770.5,107.53 L770,108.75 L769.5,106.2 L769,107.89 L768.5,107.28 L768,111.99 L767.5,109.07 L767,106.93 L766.5,107.12 L766,106.03 L765.5,110.86 L765,107.92 L764.5,106.53 L764,110.66 L763.5,107.95 L763,108.13 L762.5,111 L762,112.07 L761.5,111.07 L761,107.87 L760.5,106.37 L760,106.87 L759.5,107.12 L759,113.15 L758.5,111.93 L758,106.9 L757.5,111.43 L757,106.57 L756.5,108.36 L756,108.61 L755.5,108.24 L755,111.77 L754.5,108.1 L754,108.44 L753.5,108.28 L753,107.04 L752.5,109.31 L752,110.6 L751.5,106.92 L751,107.18 L750.5,107.94 L750,110.14 L749.5,108.03 L749,113.68 L748.5,106.23 L748,105.42 L747.5,108 L747,109.6 L746.5,106.88 L746,105.95 L745.5,107.62 L745,108.93 L744.5,109.07 L744,107.82 L743.5,107.75 L743,106.58 L742.5,106.43 L742,108.31 L741.5,108.43 L741,110.17 L740.5,106.82 L740,109.17 L739.5,108.54 L739,107.99 L738.5,111.16 L738,111.38 L737.5,108.23 L737,108.05 L736.5,108.44 L736,107.5 L735.5,108.79 L735,108.33 L734.5,111.61 L734,107.69 L733.5,108.9 L733,111.44 L732.5,109.2 L732,108.02 L731.5,108.92 L731,108.98 L730.5,112.68 L730,107.69 L729.5,109.08 L729,107.18 L728.5,110.52 L728,112.05 L727.5,108.39 L727,107.99 L726.5,108.52 L726,107.69 L725.5,108.04 L725,112.98 L724.5,107.05 L724,108.49 L723.5,113.46 L723,108.85 L722.5,109.75 L722,114.64 L721.5,106.41 L721,108.31 L720.5,107.96 L720,109.65 L719.5,109.1 L719,107.81 L718.5,109.1 L718,110.26 L717.5,111.2 L717,109.11 L716.5,109.12 L716,114.43 L715.5,110.79 L715,110.83 L714.5,109.81 L714,114.48 L713.5,111.04 L713,110.31 L712.5,110.52 L712,107.89 L711.5,109.89 L711,109.11 L710.5,113.79 L710,110.83 L709.5,110.72 L709,110.3 L708.5,109.91 L708,111.17 L707.5,114.84 L707,111.59 L706.5,110.99 L706,110.52 L705.5,111.88 L705,113.04 L704.5,115.53 L704,115.54 L703.5,113.19 L703,111.56 L702.5,113.29 L702,112.55 L701.5,118.38 L701,114.55 L700.5,114.39 L700,114.39 L699.5,116.74 L699,115.1 L698.5,120.49 L698,119.1 L697.5,121.16 L697,122.08 L696.5,123.32 L696,128.65 L695.5,130.45 L695,132.32 L694.5,134.12 L694,140.16 L693.5,140.67 L693,147 L692.5,148.84 L692,154.46 L691.5,158.91 L691,166.73 L690.5,163.99 L690,166.48 L689.5,170.29 Z" fill="#000" stroke="#000" stroke-width="0.6" stroke-linejoin="round"/>
<line x1="566" y1="46.5" x2="566" y2="81" stroke="#333" stroke-width="2"/>
<path d="M558,65 L566,81 L574,65" fill="none" stroke="#333" stroke-width="2"/>
<line x1="602.5" y1="135.5" x2="602.5" y2="170.4" stroke="#333" stroke-width="2"/>
<path d="M594.2,154.9 L602.5,170.4 L610.8,154.9" fill="none" stroke="#333" stroke-width="2"/>
<line x1="648" y1="127.3" x2="648" y2="161.2" stroke="#333" stroke-width="2"/>
<path d="M639.7,146.2 L648,161.2 L656.3,146.2" fill="none" stroke="#333" stroke-width="2"/>
<line x1="697.5" y1="68.4" x2="697.5" y2="103.2" stroke="#333" stroke-width="2"/>
<path d="M689.5,88.2 L697.5,103.2 L705.5,88.2" fill="none" stroke="#333" stroke-width="2"/>
<line x1="759.7" y1="52" x2="759.7" y2="86.7" stroke="#333" stroke-width="2"/>
<path d="M751.4,71.7 L759.7,86.7 L768,71.7" fill="none" stroke="#333" stroke-width="2"/>
<text x="573.5" y="48.8" font-size="17.5" fill="#222" stroke="#222">H<tspan font-size="20" dy="7.6">2</tspan><tspan font-size="17.5" dy="-7.6">O</tspan><tspan font-size="20" dy="7.6">2</tspan></text>
<text x="579" y="129" font-size="20.5" text-anchor="start" fill="#222" stroke="#222" >AA</text>
<text x="629.5" y="114.5" font-size="20.5" text-anchor="start" fill="#222" stroke="#222" >UA</text>
<text x="679.9" y="60" font-size="20.5" text-anchor="start" fill="#222" stroke="#222" >DA</text>
<text x="763" y="56.2" font-size="19.5" fill="#222" stroke="#222">NO<tspan font-size="21" dy="7.2">2</tspan></text>
<line x1="804.4" y1="41.2" x2="810" y2="41.2" stroke="#333" stroke-width="2.4"/>
<text x="868.8" y="20.6" font-size="27" text-anchor="start" fill="#222" stroke="#222" >C.</text>
<rect x="917.5" y="34.8" width="353.7" height="353.2" fill="none" stroke="#575757" stroke-width="2"/>
<text x="908" y="42.3" font-size="17.5" text-anchor="end" fill="#222" stroke="#222" >-8</text>
<line x1="917.5" y1="117.91" x2="930" y2="117.91" stroke="#575757" stroke-width="2"/>
<text x="908" y="125.41" font-size="17.5" text-anchor="end" fill="#222" stroke="#222" >-12</text>
<line x1="917.5" y1="201.01" x2="930" y2="201.01" stroke="#575757" stroke-width="2"/>
<text x="908" y="208.51" font-size="17.5" text-anchor="end" fill="#222" stroke="#222" >-16</text>
<line x1="917.5" y1="284.12" x2="930" y2="284.12" stroke="#575757" stroke-width="2"/>
<text x="908" y="291.62" font-size="17.5" text-anchor="end" fill="#222" stroke="#222" >-20</text>
<line x1="917.5" y1="367.22" x2="930" y2="367.22" stroke="#575757" stroke-width="2"/>
<text x="908" y="374.72" font-size="17.5" text-anchor="end" fill="#222" stroke="#222" >-24</text>
<line x1="972.5" y1="388" x2="972.5" y2="375.5" stroke="#575757" stroke-width="2"/>
<text x="972.5" y="414.8" font-size="17.5" text-anchor="middle" fill="#222" stroke="#222" >200</text>
<line x1="1081.1" y1="388" x2="1081.1" y2="375.5" stroke="#575757" stroke-width="2"/>
<text x="1081.1" y="414.8" font-size="17.5" text-anchor="middle" fill="#222" stroke="#222" >400</text>
<line x1="1189.7" y1="388" x2="1189.7" y2="375.5" stroke="#575757" stroke-width="2"/>
<text x="1189.7" y="414.8" font-size="17.5" text-anchor="middle" fill="#222" stroke="#222" >600</text>
<text x="1084.3" y="455.5" font-size="21.8" text-anchor="middle" fill="#222" stroke="#222" >time/s</text>
<text x="0" y="0" font-size="21.8" text-anchor="middle" fill="#222" stroke="#222" transform="translate(879,206.5) rotate(-90)">I / &#181;A</text>
<path d="M917.5,101.81 L918.5,101.79 L919.5,101.51 L920.5,101.7 L921.5,101.5 L922.5,101.79 L923.5,101.33 L924.5,101.39 L925.5,101.19 L926.5,101.27 L927.5,100.88 L928.5,101.31 L929.5,100.46 L930.5,100.68 L931.5,100.49 L932.5,100.81 L933.5,100.53 L934.5,100.57 L935.5,100.23 L936.5,100.03 L937.5,99.81 L938.5,99.96 L939.5,99.8 L940.5,99.95 L941.5,99.88 L942.5,99.98 L943.5,99.56 L944.5,99.28 L945.5,99.07 L946.5,99.29 L947.5,99.26 L948.5,99.62 L949.5,98.97 L950.5,99.33 L951.5,99.25 L952.5,98.26 L953.5,98.82 L954.5,98.68 L955.5,98.63 L956.5,98.11 L957.5,98.28 L958.5,97.73 L959.5,97.74 L960.5,97.65 L961.5,98.06 L962.5,97.35 L963.5,97.58 L964.5,97.2 L965.5,96.85 L966.5,97.02 L967.5,97.03 L968.5,96.5 L969.5,96.79 L970.5,96.27 L971.5,96.11 L972.5,96.32 L973.5,96.07 L974.5,95.73 L975.5,95.42 L976.5,95.8 L977.5,95.75 L978.5,95.42 L979.5,95.53 L980.5,94.95 L981.5,95.47 L982.5,95.42 L983.5,95.32 L984.5,94.99 L985.5,95.14 L986.5,95.1 L987.5,95.32 L988.5,95.02 L989.5,94.96 L990.5,94.61 L991.5,95.02 L992.5,95.06 L993.5,94.5 L994.5,94.78 L995.5,94.62 L996.5,94.46 L997.5,94.03 L998.5,94.88 L999.5,93.73 L1000.5,94.33 L1001.5,94.06 L1002.5,94.46 L1003.5,93.93 L1004.5,94.01 L1005.5,94.12 L1006.5,94.02 L1007.5,93.67 L1008.5,93.97 L1009.5,93.82 L1010.5,93.94 L1011.5,93.44 L1012.5,93.52 L1013.5,93.33 L1014.5,93.1 L1015.5,93.33 L1016.5,93.27 L1017.5,93.48 L1018.5,92.85 L1019.5,92.97 L1020.5,93.09 L1021.5,92.62 L1022.5,92.57 L1023.5,92.49 L1024.5,92.14 L1025.5,91.95 L1026.5,92.48 L1027.5,92.1 L1028.5,92.73 L1029.5,93.88 L1030.5,96.35 L1031.5,99.29 L1032.5,101.22 L1033.5,103.92 L1034.5,106.33 L1035.5,107.43 L1036.5,108.46 L1037.5,108.83 L1038.5,110.18 L1039.5,110.78 L1040.5,112.16 L1041.5,112.89 L1042.5,114.06 L1043.5,115.4 L1044.5,115.73 L1045.5,115.8 L1046.5,116.14 L1047.5,116.45 L1048.5,116.47 L1049.5,116.94 L1050.5,117.3 L1051.5,117.84 L1052.5,117.01 L1053.5,117.52 L1054.5,117.76 L1055.5,118.64 L1056.5,119.01 L1057.5,117.89 L1058.5,117.43 L1059.5,117.28 L1060.5,115.77 L1061.5,116 L1062.5,114.68 L1063.5,115.21 L1064.5,114.57 L1065.5,114.13 L1066.5,113.93 L1067.5,113.21 L1068.5,113.28 L1069.5,112.5 L1070.5,112.17 L1071.5,112.37 L1072.5,111.03 L1073.5,111 L1074.5,110.11 L1075.5,110.44 L1076.5,110.07 L1077.5,109.54 L1078.5,109.51 L1079.5,109.41 L1080.5,109.05 L1081.5,112.25 L1082.5,119.73 L1083.5,127.58 L1084.5,132.08 L1085.5,135.37 L1086.5,138.73 L1087.5,141.79 L1088.5,145.21 L1089.5,148.22 L1090.5,148.8 L1091.5,149.62 L1092.5,149.87 L1093.5,150.99 L1094.5,151.91 L1095.5,152.54 L1096.5,152.87 L1097.5,152.73 L1098.5,151.97 L1099.5,151.78 L1100.5,151.12 L1101.5,151.69 L1102.5,150.74 L1103.5,150.24 L1104.5,150.68 L1105.5,150.09 L1106.5,150.14 L1107.5,149.44 L1108.5,149.88 L1109.5,149.16 L1110.5,148.69 L1111.5,148.36 L1112.5,147.92 L1113.5,147.87 L1114.5,147.88 L1115.5,146.81 L1116.5,146.27 L1117.5,146.42 L1118.5,146.21 L1119.5,145.11 L1120.5,145 L1121.5,144.56 L1122.5,144.67 L1123.5,144.31 L1124.5,143.59 L1125.5,143.13 L1126.5,143.32 L1127.5,142.16 L1128.5,142.61 L1129.5,142.03 L1130.5,142.3 L1131.5,141.68 L1132.5,140.86 L1133.5,142.86 L1134.5,145.02 L1135.5,147.04 L1136.5,149.44 L1137.5,151.85 L1138.5,153.91 L1139.5,157.24 L1140.5,160.7 L1141.5,163.43 L1142.5,165.92 L1143.5,168.88 L1144.5,170.26 L1145.5,170.77 L1146.5,172.32 L1147.5,172.73 L1148.5,173.23 L1149.5,173.75 L1150.5,174.79 L1151.5,175.48 L1152.5,176.52 L1153.5,175.91 L1154.5,176.1 L1155.5,176.41 L1156.5,176.32 L1157.5,176.1 L1158.5,175.54 L1159.5,176.62 L1160.5,176.41 L1161.5,176.14 L1162.5,176.27 L1163.5,176.04 L1164.5,176.08 L1165.5,175.94 L1166.5,176.55 L1167.5,176.58 L1168.5,176.51 L1169.5,176.72 L1170.5,176.64 L1171.5,176.47 L1172.5,176.13 L1173.5,176.52 L1174.5,176.65 L1175.5,176.45 L1176.5,176.59 L1177.5,176.03 L1178.5,175.84 L1179.5,176.46 L1180.5,175.87 L1181.5,176.07 L1182.5,175.9 L1183.5,175.92 L1184.5,175.79 L1185.5,175.67 L1186.5,175.26 L1187.5,176.3 L1188.5,175.76 L1189.5,175.09 L1190.5,175.34 L1191.5,175.23 L1192.5,175.3 L1193.5,178.67 L1194.5,187.42 L1195.5,195.57 L1196.5,200.13 L1197.5,202.82 L1198.5,205.18 L1199.5,207.03 L1200.5,210.16 L1201.5,210.74 L1202.5,211.53 L1203.5,212.06 L1204.5,213 L1205.5,213.13 L1206.5,213.52 L1207.5,213.78 L1208.5,214.51 L1209.5,214.96 L1210.5,215.63 L1211.5,216.29 L1212.5,216.56 L1213.5,216.81 L1214.5,217.23 L1215.5,218.21 L1216.5,218.26 L1217.5,218.66 L1218.5,219.66 L1219.5,220.06 L1220.5,220.23 L1221.5,220.49 L1222.5,220.8 L1223.5,221.77 L1224.5,221.54 L1225.5,222.14 L1226.5,221.81 L1227.5,222.26 L1228.5,222.53 L1229.5,222.65 L1230.5,222.86 L1231.5,223.09 L1232.5,222.83 L1233.5,223.02 L1234.5,223.49 L1235.5,224.25 L1236.5,223.87 L1237.5,223.83 L1238.5,224.09 L1239.5,224.48 L1240.5,225.01 L1241.5,224.68 L1242.5,225.2 L1243.5,225.27 L1244.5,225.3" fill="none" stroke="#000" stroke-width="4" stroke-linejoin="round" />
<path d="M917.5,97.92 L918,98.07 L918.5,99.32 L919,97.11 L919.5,98.37 L920,99.32 L920.5,98.99 L921,99.16 L921.5,97.1 L922,97.74 L922.5,96.62 L923,95.99 L923.5,98.62 L924,99.84 L924.5,98.53 L925,99.14 L925.5,98.22 L926,99.3 L926.5,98.12 L927,98.55 L927.5,98.43 L928,98.37 L928.5,95.77 L929,96.73 L929.5,97.87 L930,97.81 L930.5,97.07 L931,97.87 L931.5,97.37 L932,96.18 L932.5,96.91 L933,96.84 L933.5,98.3 L934,98.23 L934.5,96.55 L935,94.61 L935.5,96.19 L936,95.73 L936.5,94.47 L937,97.64 L937.5,97.58 L938,98.87 L938.5,95.31 L939,96.03 L939.5,96.51 L940,95.22 L940.5,96.06 L941,97.11 L941.5,97.86 L942,97.28 L942.5,96.7 L943,95.79 L943.5,94.23 L944,95.67 L944.5,97.95 L945,95.24 L945.5,95.23 L946,97.8 L946.5,93.4 L947,95.03 L947.5,95.08 L948,95.24 L948.5,96.14 L949,96.46 L949.5,96.71 L950,97.38 L950.5,95 L951,93.69 L951.5,95.63 L952,94.07 L952.5,95.14 L953,95.83 L953.5,95.73 L954,96.35 L954.5,96.18 L955,94.69 L955.5,90.17 L956,93.18 L956.5,95.04 L957,95.58 L957.5,96.06 L958,93.66 L958.5,95.16 L959,94.55 L959.5,94.34 L960,95.59 L960.5,95.02 L961,95.09 L961.5,94.6 L962,94.29 L962.5,92.69 L963,95.2 L963.5,93.89 L964,92.83 L964.5,93.55 L965,95.15 L965.5,93.95 L966,94.66 L966.5,93.82 L967,92.96 L967.5,95.09 L968,91.89 L968.5,93.55 L969,93.72 L969.5,91.41 L970,93.11 L970.5,94.63 L971,92.53 L971.5,93.08 L972,92.74 L972.5,92.15 L973,92.82 L973.5,95.31 L974,93.33 L974.5,92.46 L975,92.92 L975.5,93.21 L976,93.91 L976.5,92.35 L977,92.4 L977.5,92.42 L978,91.34 L978.5,91.75 L979,93.05 L979.5,90.69 L980,91.46 L980.5,88.47 L981,94.14 L981.5,93.33 L982,88.35 L982.5,92.48 L983,91.33 L983.5,92.59 L984,91.36 L984.5,90.82 L985,90.48 L985.5,89.67 L986,92.91 L986.5,88.93 L987,93.43 L987.5,91.6 L988,90.29 L988.5,92.14 L989,92.64 L989.5,91.2 L990,91.27 L990.5,87.98 L991,90.77 L991.5,90.16 L992,89.42 L992.5,90.41 L993,92.2 L993.5,92.24 L994,92.96 L994.5,91.28 L995,92.06 L995.5,91.8 L996,90.81 L996.5,90.38 L997,90.71 L997.5,90.42 L998,92.16 L998.5,86.92 L999,88.75 L999.5,90.29 L1000,90.12 L1000.5,90.62 L1001,87.07 L1001.5,91.71 L1002,91.85 L1002.5,91.87 L1003,90.79 L1003.5,89.68 L1004,91.28 L1004.5,89.9 L1005,90.2 L1005.5,90.72 L1006,89.99 L1006.5,91.2 L1007,89.97 L1007.5,88.79 L1008,90.85 L1008.5,90.87 L1009,91.01 L1009.5,89.7 L1010,88.09 L1010.5,91.45 L1011,91.26 L1011.5,89.64 L1012,91.36 L1012.5,90.65 L1013,90.86 L1013.5,91 L1014,90.63 L1014.5,90.72 L1015,89.13 L1015.5,89.33 L1016,87.1 L1016.5,86.11 L1017,90.37 L1017.5,90.93 L1018,92.2 L1018.5,85.72 L1019,88.62 L1019.5,89.61 L1020,89.53 L1020.5,88.6 L1021,89.08 L1021.5,89.49 L1022,89.01 L1022.5,89.28 L1023,89.11 L1023.5,88.13 L1024,89.09 L1024.5,87.49 L1025,90.01 L1025.5,90.17 L1026,90.52 L1026.5,87.86 L1027,89.31 L1027.5,88.46 L1028,89.76 L1028.5,90.02 L1029,89.18 L1029.5,91.37 L1030,92.36 L1030.5,94.6 L1031,95.82 L1031.5,96.02 L1032,97.11 L1032.5,97.5 L1033,99.79 L1033.5,101.52 L1034,103.44 L1034.5,102.93 L1035,103.22 L1035.5,104.18 L1036,106.02 L1036.5,104.92 L1037,106.8 L1037.5,106.05 L1038,104.55 L1038.5,103.98 L1039,106.11 L1039.5,107.76 L1040,108.21 L1040.5,108.69 L1041,110.54 L1041.5,110.38 L1042,110.62 L1042.5,111.62 L1043,112.78 L1043.5,111.52 L1044,111.12 L1044.5,112.09 L1045,113.54 L1045.5,111.39 L1046,113.27 L1046.5,114.17 L1047,113.95 L1047.5,113.9 L1048,114.51 L1048.5,112.22 L1049,112.48 L1049.5,111.02 L1050,114.52 L1050.5,109.9 L1051,113.04 L1051.5,112.92 L1052,116.09 L1052.5,114.52 L1053,115.13 L1053.5,113.61 L1054,110.71 L1054.5,114.23 L1055,113.84 L1055.5,115.48 L1056,115.05 L1056.5,116.41 L1057,116.99 L1057.5,114.58 L1058,113.77 L1058.5,112.83 L1059,115.58 L1059.5,113.11 L1060,113.1 L1060.5,113.35 L1061,113.05 L1061.5,111.81 L1062,113.69 L1062.5,111.04 L1063,110.17 L1063.5,111.89 L1064,112.03 L1064.5,109.07 L1065,111.21 L1065.5,111.39 L1066,112.34 L1066.5,111.75 L1067,110.4 L1067.5,111.07 L1068,109.71 L1068.5,110.23 L1069,107.59 L1069.5,109.67 L1070,106.1 L1070.5,109.9 L1071,109.55 L1071.5,108.95 L1072,108.97 L1072.5,106.94 L1073,106.13 L1073.5,105.77 L1074,106.4 L1074.5,103.37 L1075,105.87 L1075.5,106.35 L1076,108.23 L1076.5,106.12 L1077,106.62 L1077.5,106.9 L1078,106 L1078.5,106.22 L1079,102.13 L1079.5,106.11 L1080,106.46 L1080.5,106.28 L1081,104.85 L1081.5,105.87 L1082,112.02 L1082.5,116.33 L1083,120.28 L1083.5,124.19 L1084,126.06 L1084.5,130.99 L1085,131.45 L1085.5,131.18 L1086,133.83 L1086.5,134.95 L1087,137.69 L1087.5,139.08 L1088,140.55 L1088.5,141.18 L1089,144.58 L1089.5,144.43 L1090,145.92 L1090.5,142.66 L1091,146.59 L1091.5,145.99 L1092,147.22 L1092.5,145.71 L1093,147.35 L1093.5,145.02 L1094,149.67 L1094.5,146.98 L1095,149.09 L1095.5,147.91 L1096,150.72 L1096.5,149.91 L1097,146.48 L1097.5,150.2 L1098,147.68 L1098.5,149.68 L1099,148.32 L1099.5,145.64 L1100,149.78 L1100.5,147.33 L1101,148.07 L1101.5,146.97 L1102,146.76 L1102.5,149.63 L1103,145.64 L1103.5,144.2 L1104,146.56 L1104.5,148.57 L1105,147.84 L1105.5,146.88 L1106,148.88 L1106.5,146.72 L1107,147.35 L1107.5,147.07 L1108,145.3 L1108.5,145.99 L1109,146.17 L1109.5,145.34 L1110,145.62 L1110.5,145.85 L1111,145.49 L1111.5,141.57 L1112,144.78 L1112.5,146.72 L1113,145.74 L1113.5,143.14 L1114,143.7 L1114.5,144.02 L1115,141.52 L1115.5,142.86 L1116,143.58 L1116.5,143.59 L1117,143.6 L1117.5,142.5 L1118,140.64 L1118.5,143.19 L1119,141.91 L1119.5,142.39 L1120,142.81 L1120.5,142.35 L1121,141.56 L1121.5,142.91 L1122,140.82 L1122.5,140.89 L1123,139.82 L1123.5,139.16 L1124,139.13 L1124.5,141.69 L1125,139.96 L1125.5,141.3 L1126,138.33 L1126.5,139.38 L1127,139.99 L1127.5,137.74 L1128,139.88 L1128.5,137.79 L1129,138.55 L1129.5,140.27 L1130,140.41 L1130.5,139.87 L1131,137.57 L1131.5,138.77 L1132,139.09 L1132.5,136.18 L1133,137.49 L1133.5,140.7 L1134,141.16 L1134.5,142.17 L1135,141.52 L1135.5,144.28 L1136,144.53 L1136.5,146.48 L1137,148.56 L1137.5,147.38 L1138,149 L1138.5,150.62 L1139,153.34 L1139.5,153.45 L1140,154.77 L1140.5,156.78 L1141,156.64 L1141.5,160.36 L1142,157.68 L1142.5,162.22 L1143,164.66 L1143.5,165.35 L1144,167.42 L1144.5,166.45 L1145,166.89 L1145.5,167.77 L1146,168.84 L1146.5,168.8 L1147,168.34 L1147.5,170.83 L1148,169.09 L1148.5,170.18 L1149,171.55 L1149.5,169.81 L1150,171.64 L1150.5,171.65 L1151,171.28 L1151.5,173.46 L1152,173.48 L1152.5,171.59 L1153,173.78 L1153.5,172.72 L1154,174.27 L1154.5,175.02 L1155,173.37 L1155.5,170.93 L1156,173.48 L1156.5,174.06 L1157,172.64 L1157.5,172.12 L1158,173.34 L1158.5,174.12 L1159,174.06 L1159.5,172.97 L1160,172.42 L1160.5,170.46 L1161,174.42 L1161.5,173.46 L1162,172.69 L1162.5,171.81 L1163,169.03 L1163.5,171.85 L1164,172.31 L1164.5,172.83 L1165,172.15 L1165.5,173.07 L1166,172.29 L1166.5,173.05 L1167,173.07 L1167.5,172.25 L1168,173.45 L1168.5,172.59 L1169,172.2 L1169.5,173.21 L1170,174.61 L1170.5,173.59 L1171,174.06 L1171.5,172.53 L1172,173.49 L1172.5,173.06 L1173,173.2 L1173.5,173.22 L1174,172.12 L1174.5,174.43 L1175,172.16 L1175.5,171.56 L1176,173.89 L1176.5,171.9 L1177,171.89 L1177.5,171.75 L1178,173.36 L1178.5,173.48 L1179,172.95 L1179.5,173.22 L1180,169.72 L1180.5,172.97 L1181,173.46 L1181.5,170.27 L1182,171.38 L1182.5,171.73 L1183,173.37 L1183.5,171.35 L1184,172.97 L1184.5,173.07 L1185,173.46 L1185.5,169.52 L1186,171.98 L1186.5,171.9 L1187,173.19 L1187.5,172.42 L1188,171.95 L1188.5,172.15 L1189,173.21 L1189.5,172.98 L1190,171.84 L1190.5,172.21 L1191,172.82 L1191.5,171.37 L1192,173.02 L1192.5,172.29 L1193,173.88 L1193.5,176.91 L1194,176.8 L1194.5,183.64 L1195,187.62 L1195.5,194.38 L1196,196.48 L1196.5,197.83 L1197,198.55 L1197.5,199.18 L1198,200.93 L1198.5,202.22 L1199,203.49 L1199.5,204.11 L1200,206.43 L1200.5,204.66 L1201,207.84 L1201.5,207.52 L1202,207.81 L1202.5,208.73 L1203,209.08 L1203.5,209.66 L1204,208.78 L1204.5,205.91 L1205,208.47 L1205.5,210.67 L1206,208.53 L1206.5,211.51 L1207,210.97 L1207.5,210.01 L1208,209.14 L1208.5,212.25 L1209,212.01 L1209.5,212.06 L1210,212.33 L1210.5,211.94 L1211,212.69 L1211.5,211.33 L1212,214.42 L1212.5,212.57 L1213,212.42 L1213.5,213.17 L1214,212.76 L1214.5,213.1 L1215,213.21 L1215.5,213.47 L1216,214.27 L1216.5,214.9 L1217,215.81 L1217.5,214.44 L1218,213.49 L1218.5,214.22 L1219,216.78 L1219.5,216.18 L1220,216.96 L1220.5,216.36 L1221,215.72 L1221.5,217.53 L1222,219.15 L1222.5,215.37 L1223,212.21 L1223.5,219.19 L1224,217.89 L1224.5,218.16 L1225,215.94 L1225.5,218.6 L1226,219.05 L1226.5,219.7 L1227,218.4 L1227.5,218.74 L1228,220.48 L1228.5,219.77 L1229,220.74 L1229.5,217.06 L1230,220.52 L1230.5,218.02 L1231,219.15 L1231.5,219.5 L1232,220.67 L1232.5,219.92 L1233,221.64 L1233.5,220.18 L1234,220.32 L1234.5,218.96 L1235,220.78 L1235.5,221.17 L1236,221.37 L1236.5,221.04 L1237,220.55 L1237.5,221.19 L1238,221.12 L1238.5,221.3 L1239,219.36 L1239.5,222.47 L1240,218.15 L1240.5,219.87 L1241,223.64 L1241.5,218.02 L1242,221.69 L1242.5,221.33 L1243,219.74 L1243.5,221.5 L1244,221.35 L1244.5,221.75 L1245,222.11 L1245,230.51 L1244.5,227.73 L1244,228.72 L1243.5,229.25 L1243,228.25 L1242.5,229.1 L1242,227.78 L1241.5,230.95 L1241,227.96 L1240.5,226.45 L1240,226.61 L1239.5,226.48 L1239,227.84 L1238.5,229.86 L1238,226.93 L1237.5,226.35 L1237,226.93 L1236.5,227.53 L1236,227.23 L1235.5,225.83 L1235,226.53 L1234.5,227.29 L1234,227.4 L1233.5,226.49 L1233,226.55 L1232.5,226.36 L1232,226.72 L1231.5,226.59 L1231,225.68 L1230.5,228.92 L1230,225.11 L1229.5,225.68 L1229,226.42 L1228.5,228.44 L1228,226.82 L1227.5,228.93 L1227,226.03 L1226.5,228.06 L1226,224.44 L1225.5,227.25 L1225,226.13 L1224.5,226.83 L1224,228.54 L1223.5,225.38 L1223,223.76 L1222.5,224.04 L1222,224.43 L1221.5,224.47 L1221,223.48 L1220.5,222.78 L1220,221.95 L1219.5,223.88 L1219,225.2 L1218.5,223.04 L1218,221.9 L1217.5,221.25 L1217,222.29 L1216.5,224.45 L1216,225.12 L1215.5,220.24 L1215,220.52 L1214.5,224.18 L1214,221.3 L1213.5,219.94 L1213,221.35 L1212.5,219.58 L1212,219.43 L1211.5,219.26 L1211,220.8 L1210.5,219.06 L1210,220.87 L1209.5,219.79 L1209,217.84 L1208.5,217.27 L1208,216.03 L1207.5,217.22 L1207,217.35 L1206.5,216.52 L1206,217.5 L1205.5,216.79 L1205,218.59 L1204.5,219.39 L1204,216.98 L1203.5,215.53 L1203,214.32 L1202.5,215.31 L1202,214.28 L1201.5,214.32 L1201,214.34 L1200.5,213.83 L1200,214.72 L1199.5,210.71 L1199,210.65 L1198.5,208.26 L1198,206.71 L1197.5,208.48 L1197,205.93 L1196.5,203.33 L1196,203.22 L1195.5,200.78 L1195,194.54 L1194.5,188.85 L1194,186.33 L1193.5,183.07 L1193,178.76 L1192.5,179.17 L1192,182.16 L1191.5,179.18 L1191,178.52 L1190.5,178.79 L1190,179.97 L1189.5,179.68 L1189,178.08 L1188.5,179.13 L1188,179.42 L1187.5,179.09 L1187,178.32 L1186.5,179.4 L1186,178.52 L1185.5,178.5 L1185,178.95 L1184.5,178.68 L1184,179.61 L1183.5,178.56 L1183,183.44 L1182.5,180.69 L1182,181.95 L1181.5,180.41 L1181,178.4 L1180.5,179.33 L1180,178.54 L1179.5,181.16 L1179,178.22 L1178.5,179.52 L1178,178.67 L1177.5,178.58 L1177,179.5 L1176.5,178.68 L1176,179.69 L1175.5,180.64 L1175,182.11 L1174.5,178.27 L1174,179.11 L1173.5,180.61 L1173,179.41 L1172.5,180.44 L1172,178.59 L1171.5,178.43 L1171,180.38 L1170.5,180.39 L1170,181.09 L1169.5,181.5 L1169,183.29 L1168.5,179.1 L1168,179.65 L1167.5,179.65 L1167,181.64 L1166.5,179.53 L1166,180 L1165.5,179.21 L1165,182.62 L1164.5,179.93 L1164,179.58 L1163.5,179.44 L1163,182.6 L1162.5,177.49 L1162,178.22 L1161.5,180.26 L1161,179.94 L1160.5,180.22 L1160,180.17 L1159.5,177.18 L1159,178.11 L1158.5,179.51 L1158,183.96 L1157.5,179.17 L1157,180.78 L1156.5,177.84 L1156,179.36 L1155.5,181.04 L1155,184.31 L1154.5,179.06 L1154,181.33 L1153.5,178.98 L1153,178.57 L1152.5,182.31 L1152,179.1 L1151.5,181.27 L1151,178.82 L1150.5,177.51 L1150,178.48 L1149.5,178.93 L1149,177.3 L1148.5,175.51 L1148,179 L1147.5,174.47 L1147,175.16 L1146.5,175.08 L1146,175.83 L1145.5,175.15 L1145,175.45 L1144.5,173.25 L1144,173.22 L1143.5,172.59 L1143,170.38 L1142.5,172.4 L1142,168.26 L1141.5,165.78 L1141,165.48 L1140.5,163.89 L1140,161.47 L1139.5,160.14 L1139,158.14 L1138.5,157.06 L1138,155.29 L1137.5,154.24 L1137,152.73 L1136.5,154.77 L1136,151.08 L1135.5,150.8 L1135,151.15 L1134.5,147.19 L1134,144.97 L1133.5,144.25 L1133,144.73 L1132.5,143.32 L1132,145.47 L1131.5,142.13 L1131,145.65 L1130.5,143.34 L1130,143.67 L1129.5,144.96 L1129,145.2 L1128.5,145.53 L1128,146.19 L1127.5,145.19 L1127,146.78 L1126.5,149.36 L1126,146.75 L1125.5,147.31 L1125,148.02 L1124.5,147.58 L1124,147.22 L1123.5,146.71 L1123,148.6 L1122.5,146.62 L1122,148.12 L1121.5,152.85 L1121,149.32 L1120.5,148.05 L1120,148.89 L1119.5,149.99 L1119,146.86 L1118.5,149.67 L1118,148.69 L1117.5,149.9 L1117,149.04 L1116.5,149.37 L1116,151.29 L1115.5,154.04 L1115,149.62 L1114.5,150.19 L1114,150.93 L1113.5,151.93 L1113,151.14 L1112.5,151.25 L1112,151.07 L1111.5,153.09 L1111,151.39 L1110.5,151.56 L1110,153.08 L1109.5,153.08 L1109,154.03 L1108.5,153.39 L1108,154.85 L1107.5,152.15 L1107,153.01 L1106.5,151.6 L1106,154.27 L1105.5,156.86 L1105,154.53 L1104.5,154.39 L1104,153.87 L1103.5,154.05 L1103,155.59 L1102.5,153.74 L1102,155.6 L1101.5,152.95 L1101,154.45 L1100.5,154.21 L1100,154.67 L1099.5,156.44 L1099,156.2 L1098.5,154.57 L1098,155.74 L1097.5,161 L1097,155.85 L1096.5,156.56 L1096,156.67 L1095.5,156.51 L1095,156.42 L1094.5,154.31 L1094,155.61 L1093.5,154.38 L1093,154.39 L1092.5,152.94 L1092,153.05 L1091.5,152 L1091,152.24 L1090.5,153.04 L1090,151.12 L1089.5,152.52 L1089,150.73 L1088.5,147.84 L1088,148.28 L1087.5,144.22 L1087,144.16 L1086.5,143.23 L1086,139.67 L1085.5,138.23 L1085,136.87 L1084.5,136.28 L1084,137.73 L1083.5,131.59 L1083,127.09 L1082.5,122.84 L1082,119.21 L1081.5,116.32 L1081,112.7 L1080.5,112.42 L1080,112.66 L1079.5,112.46 L1079,112.24 L1078.5,111.43 L1078,112.01 L1077.5,112 L1077,112.05 L1076.5,114.46 L1076,116.7 L1075.5,112.96 L1075,112.8 L1074.5,112.88 L1074,113.41 L1073.5,114.53 L1073,116.02 L1072.5,116.63 L1072,114.03 L1071.5,115.26 L1071,113.66 L1070.5,117.27 L1070,113.76 L1069.5,119.3 L1069,119.32 L1068.5,115.35 L1068,117.31 L1067.5,118.77 L1067,120.67 L1066.5,116.76 L1066,117.47 L1065.5,117.84 L1065,119.24 L1064.5,116.26 L1064,118.57 L1063.5,118.03 L1063,118.13 L1062.5,120.1 L1062,119.39 L1061.5,120.41 L1061,120.08 L1060.5,119.7 L1060,119.1 L1059.5,120.35 L1059,120.55 L1058.5,121.78 L1058,120.71 L1057.5,121.68 L1057,121.1 L1056.5,121.98 L1056,121.77 L1055.5,122.33 L1055,119.96 L1054.5,120.01 L1054,121.18 L1053.5,121.33 L1053,122.51 L1052.5,121.28 L1052,121.07 L1051.5,123.29 L1051,121.16 L1050.5,120.89 L1050,120.15 L1049.5,121.1 L1049,117.74 L1048.5,120.44 L1048,119.97 L1047.5,119.14 L1047,120.19 L1046.5,119.88 L1046,119.18 L1045.5,119.3 L1045,118.44 L1044.5,117.84 L1044,118.92 L1043.5,117.55 L1043,118.57 L1042.5,116.43 L1042,117.74 L1041.5,116.17 L1041,115.24 L1040.5,114.01 L1040,115.29 L1039.5,113.51 L1039,114.15 L1038.5,110.61 L1038,112.88 L1037.5,112.55 L1037,112.58 L1036.5,111.06 L1036,110.57 L1035.5,110.36 L1035,112.48 L1034.5,108.79 L1034,109.53 L1033.5,107.56 L1033,105.96 L1032.5,104.88 L1032,103.56 L1031.5,105.26 L1031,100.03 L1030.5,103.41 L1030,97.39 L1029.5,97.9 L1029,96.06 L1028.5,97.38 L1028,94.76 L1027.5,96.54 L1027,96.94 L1026.5,97.65 L1026,96.69 L1025.5,95.66 L1025,94.59 L1024.5,95.83 L1024,95.22 L1023.5,94.83 L1023,95.96 L1022.5,95.09 L1022,94.91 L1021.5,95.36 L1021,95.14 L1020.5,97.1 L1020,96.84 L1019.5,96.89 L1019,96.41 L1018.5,97.19 L1018,95.98 L1017.5,97.47 L1017,95.55 L1016.5,97 L1016,94.28 L1015.5,96.03 L1015,98.06 L1014.5,96.09 L1014,97.51 L1013.5,97.72 L1013,95.63 L1012.5,96.42 L1012,96.93 L1011.5,98.47 L1011,97.53 L1010.5,98.08 L1010,97.62 L1009.5,97.4 L1009,98.17 L1008.5,97.03 L1008,96.36 L1007.5,99.98 L1007,96.09 L1006.5,97.19 L1006,98.02 L1005.5,97.22 L1005,97.53 L1004.5,96.22 L1004,95.91 L1003.5,97.29 L1003,97.17 L1002.5,98.62 L1002,96.53 L1001.5,98.57 L1001,96.3 L1000.5,98.28 L1000,97.72 L999.5,96.12 L999,97.12 L998.5,97.59 L998,96.81 L997.5,97.96 L997,97.78 L996.5,96.94 L996,97 L995.5,99.08 L995,98.33 L994.5,98.82 L994,98.36 L993.5,98.88 L993,97.16 L992.5,98.62 L992,97.52 L991.5,99.03 L991,97.43 L990.5,98.67 L990,99.62 L989.5,98.68 L989,99.08 L988.5,98.61 L988,98.41 L987.5,97.97 L987,98.47 L986.5,101.51 L986,98.31 L985.5,99.2 L985,99.58 L984.5,98.97 L984,101.42 L983.5,98.07 L983,99.37 L982.5,98.44 L982,99.15 L981.5,100.82 L981,99.53 L980.5,98.34 L980,98.29 L979.5,98.42 L979,99.17 L978.5,98.45 L978,101.04 L977.5,98.36 L977,98.89 L976.5,99.01 L976,98.63 L975.5,97.44 L975,97.44 L974.5,100.22 L974,99.3 L973.5,99.64 L973,99.71 L972.5,100.46 L972,98.52 L971.5,99.32 L971,102.81 L970.5,101.26 L970,100.32 L969.5,100.2 L969,99.54 L968.5,100.01 L968,100.61 L967.5,99.26 L967,98.85 L966.5,100.36 L966,99.46 L965.5,99.66 L965,99.33 L964.5,103.95 L964,101.56 L963.5,100.85 L963,101.08 L962.5,100.32 L962,99.34 L961.5,102.53 L961,100.43 L960.5,100.32 L960,102.21 L959.5,101.4 L959,102.09 L958.5,100.55 L958,101.52 L957.5,101.73 L957,100.51 L956.5,101.99 L956,101.71 L955.5,102.55 L955,101.53 L954.5,102.09 L954,101.61 L953.5,100.94 L953,102.23 L952.5,100.74 L952,101.41 L951.5,103.76 L951,102.05 L950.5,102.16 L950,102.27 L949.5,103.57 L949,102.67 L948.5,102.51 L948,101.54 L947.5,102.6 L947,102.66 L946.5,102.32 L946,102.78 L945.5,101.15 L945,103.67 L944.5,103.27 L944,104.74 L943.5,103.64 L943,103.61 L942.5,102.9 L942,106.11 L941.5,105.3 L941,102.24 L940.5,104.86 L940,104.54 L939.5,104.18 L939,102.47 L938.5,102.81 L938,103.14 L937.5,103.47 L937,102.36 L936.5,102.96 L936,103.83 L935.5,105.37 L935,104.4 L934.5,103.36 L934,104.21 L933.5,103.74 L933,105.11 L932.5,103.81 L932,103.32 L931.5,105.47 L931,104.44 L930.5,103.32 L930,104.37 L929.5,104.41 L929,104.89 L928.5,107.78 L928,106.03 L927.5,106.79 L927,105.15 L926.5,102.47 L926,103.06 L925.5,104.49 L925,104.82 L924.5,103.67 L924,104.79 L923.5,105.91 L923,105.9 L922.5,105 L922,105.06 L921.5,104.51 L921,103.47 L920.5,105.11 L920,106.95 L919.5,106.06 L919,104.66 L918.5,108.48 L918,106.2 L917.5,105.12 Z" fill="#000" stroke="#000" stroke-width="0.6" stroke-linejoin="round"/>
<text x="1018.5" y="72.7" font-size="18.7" text-anchor="start" fill="#222" stroke="#222" >R1</text>
<text x="1064.3" y="90.3" font-size="18.7" text-anchor="start" fill="#222" stroke="#222" >R1+S1</text>
<text x="1130.8" y="122.4" font-size="18.7" text-anchor="start" fill="#222" stroke="#222" >R1+S2</text>
<text x="1183.9" y="156.1" font-size="18.7" text-anchor="start" fill="#222" stroke="#222" >R1+S3</text>
<text x="12" y="484.4" font-size="27" text-anchor="start" fill="#222" stroke="#222" >D.</text>
<rect x="79.7" y="501" width="354.6" height="353.6" fill="none" stroke="#606060" stroke-width="2"/>
<line x1="79.7" y1="536.36" x2="92.2" y2="536.36" stroke="#606060" stroke-width="2"/>
<text x="70" y="543.56" font-size="20" text-anchor="end" fill="#222" stroke="#222" >-8</text>
<line x1="79.7" y1="583.51" x2="92.2" y2="583.51" stroke="#606060" stroke-width="2"/>
<text x="70" y="590.71" font-size="20" text-anchor="end" fill="#222" stroke="#222" >-12</text>
<line x1="79.7" y1="630.65" x2="92.2" y2="630.65" stroke="#606060" stroke-width="2"/>
<text x="70" y="637.85" font-size="20" text-anchor="end" fill="#222" stroke="#222" >-16</text>
<line x1="79.7" y1="677.8" x2="92.2" y2="677.8" stroke="#606060" stroke-width="2"/>
<text x="70" y="685" font-size="20" text-anchor="end" fill="#222" stroke="#222" >-20</text>
<line x1="79.7" y1="724.95" x2="92.2" y2="724.95" stroke="#606060" stroke-width="2"/>
<text x="70" y="732.15" font-size="20" text-anchor="end" fill="#222" stroke="#222" >-24</text>
<line x1="79.7" y1="772.09" x2="92.2" y2="772.09" stroke="#606060" stroke-width="2"/>
<text x="70" y="779.29" font-size="20" text-anchor="end" fill="#222" stroke="#222" >-28</text>
<line x1="79.7" y1="819.24" x2="92.2" y2="819.24" stroke="#606060" stroke-width="2"/>
<text x="70" y="826.44" font-size="20" text-anchor="end" fill="#222" stroke="#222" >-32</text>
<line x1="134.4" y1="854.6" x2="134.4" y2="842.1" stroke="#606060" stroke-width="2"/>
<text x="134.4" y="883.5" font-size="20" text-anchor="middle" fill="#222" stroke="#222" >200</text>
<line x1="243.56" y1="854.6" x2="243.56" y2="842.1" stroke="#606060" stroke-width="2"/>
<text x="243.56" y="883.5" font-size="20" text-anchor="middle" fill="#222" stroke="#222" >400</text>
<line x1="352.72" y1="854.6" x2="352.72" y2="842.1" stroke="#606060" stroke-width="2"/>
<text x="352.72" y="883.5" font-size="20" text-anchor="middle" fill="#222" stroke="#222" >600</text>
<text x="257.4" y="926" font-size="21.8" text-anchor="middle" fill="#222" stroke="#222" >time/s</text>
<text x="0" y="0" font-size="21.8" text-anchor="middle" fill="#222" stroke="#222" transform="translate(17.4,677.5) rotate(-90)">I / &#181;A</text>
<path d="M191,548 L192.3,575 L193.5,596" fill="none" stroke="#000" stroke-width="2.0" stroke-linejoin="round" />
<path d="M243.7,602.6 L246,617 L248.8,632" fill="none" stroke="#000" stroke-width="2.0" stroke-linejoin="round" />
<path d="M297.5,631.5 L300.2,660.7 L301.8,668" fill="none" stroke="#000" stroke-width="2.0" stroke-linejoin="round" />
<path d="M353,669.5 L355.9,693 L357.5,700" fill="none" stroke="#000" stroke-width="2.0" stroke-linejoin="round" />
<path d="M80,559.21 L81,559.66 L82,559.57 L83,559.69 L84,558.66 L85,558.87 L86,558.74 L87,558.8 L88,559.8 L89,558.6 L90,558.55 L91,558.23 L92,558.7 L93,559.37 L94,558.63 L95,558.68 L96,557.42 L97,558.25 L98,557.68 L99,558.11 L100,557.91 L101,557.62 L102,556.48 L103,557.16 L104,556.77 L105,557.08 L106,556.78 L107,557.12 L108,555.83 L109,556.1 L110,556.28 L111,556.34 L112,555.87 L113,555.89 L114,555.77 L115,556.06 L116,555.4 L117,555.41 L118,554.35 L119,553.84 L120,554.2 L121,554.86 L122,553.53 L123,554.58 L124,554.21 L125,554.1 L126,553.63 L127,553.61 L128,554.08 L129,553.78 L130,553.52 L131,553.22 L132,553.44 L133,553.78 L134,553.16 L135,552.92 L136,552.47 L137,552.94 L138,552.4 L139,552.08 L140,553.01 L141,552.26 L142,551.55 L143,552.04 L144,553.08 L145,552.13 L146,551.5 L147,551.51 L148,552.22 L149,551.99 L150,551.82 L151,551.55 L152,551.76 L153,552.13 L154,551.58 L155,551.2 L156,550.56 L157,551.29 L158,551.69 L159,551.2 L160,550.26 L161,550.81 L162,551.21 L163,550.27 L164,550.68 L165,550.91 L166,551 L167,549.49 L168,549.33 L169,550.18 L170,550.23 L171,549.67 L172,549.73 L173,549.47 L174,550.09 L175,548.49 L176,549.49 L177,548.72 L178,548.9 L179,548.43 L180,548.62 L181,548.92 L182,548.85 L183,549.54 L184,548.56 L185,548.72 L186,548.64 L187,548.5 L188,548.95 L189,548.26 L190,548.17 L191,547.95" fill="none" stroke="#000" stroke-width="3.8" stroke-linejoin="round" />
<path d="M193.5,596 L194.5,597.76 L195.5,600.02 L196.5,601.37 L197.5,603.18 L198.5,604.92 L199.5,605.97 L200.5,605.85 L201.5,606.89 L202.5,606.64 L203.5,607.62 L204.5,608.58 L205.5,608.25 L206.5,608.53 L207.5,608.47 L208.5,609.47 L209.5,609.03 L210.5,609.31 L211.5,608.49 L212.5,608.9 L213.5,609.35 L214.5,608.6 L215.5,608.16 L216.5,607.61 L217.5,608.07 L218.5,608.24 L219.5,608.1 L220.5,607.22 L221.5,607.05 L222.5,606.85 L223.5,606.61 L224.5,606.72 L225.5,606.74 L226.5,607.25 L227.5,606.26 L228.5,606.6 L229.5,605 L230.5,606.2 L231.5,605.65 L232.5,605.27 L233.5,605.22 L234.5,604.91 L235.5,605.26 L236.5,604.55 L237.5,603.2 L238.5,602.97 L239.5,604.24 L240.5,603.27 L241.5,603.67 L242.5,602.71 L243.5,602.35" fill="none" stroke="#000" stroke-width="3.8" stroke-linejoin="round" />
<path d="M248.8,631.85 L249.8,634.2 L250.8,635.73 L251.8,635.86 L252.8,636.86 L253.8,637.38 L254.8,636.77 L255.8,636.48 L256.8,635.9 L257.8,636.43 L258.8,636.37 L259.8,635.85 L260.8,635.69 L261.8,635.69 L262.8,635.56 L263.8,635.6 L264.8,635.51 L265.8,635.13 L266.8,635.23 L267.8,634.1 L268.8,634.6 L269.8,634.29 L270.8,633.5 L271.8,633.57 L272.8,633.97 L273.8,633.71 L274.8,633.02 L275.8,633.24 L276.8,634.07 L277.8,633.67 L278.8,633.24 L279.8,633.71 L280.8,632.61 L281.8,632.84 L282.8,633.25 L283.8,632.58 L284.8,632.13 L285.8,632.8 L286.8,633.15 L287.8,631.22 L288.8,632.32 L289.8,631.6 L290.8,631.93 L291.8,631.34 L292.8,633.03 L293.8,631.47 L294.8,631.71 L295.8,631.3 L296.8,631.11" fill="none" stroke="#000" stroke-width="3.8" stroke-linejoin="round" />
<path d="M301.8,667.8 L302.8,670.09 L303.8,670.47 L304.8,668.93 L305.8,668.61 L306.8,666.55 L307.8,666.43 L308.8,666.21 L309.8,665.7 L310.8,668.06 L311.8,666.29 L312.8,666.51 L313.8,666.06 L314.8,666.14 L315.8,665.94 L316.8,666.86 L317.8,666.22 L318.8,666.34 L319.8,666.48 L320.8,665.85 L321.8,666.5 L322.8,666.32 L323.8,666.6 L324.8,666.23 L325.8,666.42 L326.8,666.63 L327.8,666.92 L328.8,666.28 L329.8,667.12 L330.8,666.35 L331.8,666.8 L332.8,667.05 L333.8,667.15 L334.8,666.08 L335.8,666.85 L336.8,667.3 L337.8,667.9 L338.8,667.27 L339.8,668.36 L340.8,666.98 L341.8,667.92 L342.8,668.22 L343.8,668.09 L344.8,668.3 L345.8,668.7 L346.8,668.02 L347.8,668.74 L348.8,669.05 L349.8,668.58 L350.8,667.75 L351.8,668.55 L352.8,669.05" fill="none" stroke="#000" stroke-width="3.8" stroke-linejoin="round" />
<path d="M357.5,699.53 L358.5,702.53 L359.5,703.25 L360.5,704.94 L361.5,704.32 L362.5,703.71 L363.5,704.39 L364.5,705.42 L365.5,705.27 L366.5,704.74 L367.5,705.88 L368.5,705.43 L369.5,706.85 L370.5,705.85 L371.5,706.58 L372.5,706.79 L373.5,706.57 L374.5,706.93 L375.5,707.73 L376.5,707.67 L377.5,707.64 L378.5,708.09 L379.5,708.9 L380.5,708.76 L381.5,708.78 L382.5,708.94 L383.5,708.34 L384.5,709.41 L385.5,709.45 L386.5,710.31 L387.5,710.03 L388.5,710.82 L389.5,710.47 L390.5,711.65 L391.5,711.25 L392.5,711.88 L393.5,712.47 L394.5,712.38 L395.5,712.85 L396.5,713.64 L397.5,714.27 L398.5,713 L399.5,713.72 L400.5,714.74 L401.5,715.17 L402.5,714.86 L403.5,715.43 L404.5,715.62 L405.5,717.04 L406.5,716.25 L407.5,716.13 L408.5,716.29" fill="none" stroke="#000" stroke-width="3.8" stroke-linejoin="round" />
<text x="190.8" y="542.8" font-size="19.5" text-anchor="start" fill="#222" stroke="#222" >R2</text>
<text x="211.8" y="586.6" font-size="19.5" text-anchor="start" fill="#222" stroke="#222" >R2+S1</text>
<text x="271" y="619.5" font-size="19.5" text-anchor="start" fill="#222" stroke="#222" >R2+S2</text>
<text x="336.3" y="656.7" font-size="19.5" text-anchor="start" fill="#222" stroke="#222" >R2+S3</text>
<text x="439.6" y="484.6" font-size="27" text-anchor="start" fill="#222" stroke="#222" >E.</text>
<rect x="503.7" y="502" width="354.3" height="353.2" fill="none" stroke="#555" stroke-width="2"/>
<text x="492" y="509.53" font-size="18.7" text-anchor="end" fill="#222" stroke="#222" >-8</text>
<line x1="503.7" y1="543.55" x2="516.2" y2="543.55" stroke="#555" stroke-width="2"/>
<text x="492" y="551.08" font-size="18.7" text-anchor="end" fill="#222" stroke="#222" >-10</text>
<line x1="503.7" y1="585.11" x2="516.2" y2="585.11" stroke="#555" stroke-width="2"/>
<text x="492" y="592.64" font-size="18.7" text-anchor="end" fill="#222" stroke="#222" >-12</text>
<line x1="503.7" y1="626.66" x2="516.2" y2="626.66" stroke="#555" stroke-width="2"/>
<text x="492" y="634.19" font-size="18.7" text-anchor="end" fill="#222" stroke="#222" >-14</text>
<line x1="503.7" y1="668.21" x2="516.2" y2="668.21" stroke="#555" stroke-width="2"/>
<text x="492" y="675.74" font-size="18.7" text-anchor="end" fill="#222" stroke="#222" >-16</text>
<line x1="503.7" y1="709.76" x2="516.2" y2="709.76" stroke="#555" stroke-width="2"/>
<text x="492" y="717.3" font-size="18.7" text-anchor="end" fill="#222" stroke="#222" >-18</text>
<line x1="503.7" y1="751.32" x2="516.2" y2="751.32" stroke="#555" stroke-width="2"/>
<text x="492" y="758.85" font-size="18.7" text-anchor="end" fill="#222" stroke="#222" >-20</text>
<line x1="503.7" y1="792.87" x2="516.2" y2="792.87" stroke="#555" stroke-width="2"/>
<text x="492" y="800.4" font-size="18.7" text-anchor="end" fill="#222" stroke="#222" >-22</text>
<line x1="503.7" y1="834.42" x2="516.2" y2="834.42" stroke="#555" stroke-width="2"/>
<text x="492" y="841.96" font-size="18.7" text-anchor="end" fill="#222" stroke="#222" >-24</text>
<line x1="557.9" y1="855.2" x2="557.9" y2="842.7" stroke="#555" stroke-width="2"/>
<text x="557.9" y="883.8" font-size="20" text-anchor="middle" fill="#222" stroke="#222" >200</text>
<line x1="667.06" y1="855.2" x2="667.06" y2="842.7" stroke="#555" stroke-width="2"/>
<text x="667.06" y="883.8" font-size="20" text-anchor="middle" fill="#222" stroke="#222" >400</text>
<line x1="776.22" y1="855.2" x2="776.22" y2="842.7" stroke="#555" stroke-width="2"/>
<text x="776.22" y="883.8" font-size="20" text-anchor="middle" fill="#222" stroke="#222" >600</text>
<text x="680.6" y="926.6" font-size="22.3" text-anchor="middle" fill="#222" stroke="#222" >time/s</text>
<text x="0" y="0" font-size="21.8" text-anchor="middle" fill="#222" stroke="#222" transform="translate(461,668.5) rotate(-90)">I / &#181;A</text>
<path d="M504,585.12 L505,585.57 L506,584.75 L507,585.12 L508,584.42 L509,584.02 L510,583.78 L511,583.51 L512,583.23 L513,582.35 L514,582.15 L515,581.84 L516,581.78 L517,581.42 L518,580.87 L519,580.78 L520,581.26 L521,581.11 L522,579.97 L523,580.09 L524,579.71 L525,579.22 L526,579.42 L527,578.94 L528,579.2 L529,578.59 L530,578.11 L531,577.14 L532,577.62 L533,577.63 L534,576.9 L535,577.1 L536,576.76 L537,575.76 L538,575.96 L539,575.84 L540,575.69 L541,575.24 L542,574.92 L543,574.54 L544,574.29 L545,574.1 L546,573.51 L547,573.74 L548,573.18 L549,573.16 L550,572.58 L551,572.58 L552,572.22 L553,572.18 L554,571.78 L555,571.64 L556,571.04 L557,570.8 L558,570.47 L559,569.9 L560,569.96 L561,570.12 L562,569.81 L563,569.13 L564,569.26 L565,569.19 L566,568.35 L567,568.65 L568,568.44 L569,568.35 L570,568 L571,567.2 L572,566.91 L573,567.89 L574,566.98 L575,567.26 L576,567.05 L577,566.5 L578,565.93 L579,566.46 L580,565.84 L581,565.8 L582,565.58 L583,565.51 L584,565.32 L585,564.39 L586,564.19 L587,564.44 L588,564.19 L589,564.21 L590,563.74 L591,563.51 L592,563.96 L593,563.56 L594,563.29 L595,563.04 L596,562.3 L597,562.3 L598,562.09 L599,561.58 L600,561.44 L601,561.57 L602,560.98 L603,561.32 L604,561.12 L605,560.73 L606,560.52 L607,560.62 L608,560.4 L609,560.19 L610,559.54 L611,559.24 L612,560.15 L613,559.17 L614,559.07 L615,558.46 L616,558.58 L617,558.42 L618,558.7 L619,557.5 L620,557.69 L621,557.8 L622,557.59 L623,557.33 L624,557.25 L625,556.73 L626,557.1 L627,557.19 L628,556.71 L629,556.32 L630,556.67 L631,556.26 L632,555.64 L633,555.59 L634,555.4 L635,555.39 L636,555.58 L637,554.83 L638,554.82 L639,554.71 L640,554.15 L641,554.23 L642,554.43 L643,554.46 L644,553.45 L645,554.08 L646,553.66 L647,554.01 L648,553.68 L649,553.96 L650,553.34 L651,553.01 L652,552.75 L653,552.45 L654,552.91 L655,552.78 L656,552.74 L657,552.48 L658,551.81 L659,552 L660,551.93 L661,551.92 L662,551.98 L663,552.05 L664,551.58 L665,550.76 L666,550.95 L667,550.49 L668,550.77 L669,550.52 L670,550.82 L671,550.56 L672,550.83 L673,550.69 L674,550.12 L675,550.41 L676,550 L677,550.01 L678,550.15 L679,549.28 L680,549.48 L681,549.67 L682,548.71 L683,548.72 L684,548.41 L685,547.97 L686,547.43 L687,547.33 L688,546.96 L689,547.29 L690,546.76 L691,546.61 L692,545.78 L693,545.99 L694,545.6 L695,545.59 L696,544.79 L697,544.37 L698,543.66 L699,548.89 L700,555.73 L701,567.81 L702,572.63 L703,573.46 L704,573.45 L705,573.49 L706,573.24 L707,573.97 L708,574.18 L709,573.81 L710,573.89 L711,574.39 L712,574.29 L713,574.65 L714,574.24 L715,574.56 L716,574.47 L717,574.51 L718,574.7 L719,574.81 L720,575.15 L721,575.06 L722,575.32 L723,575.21 L724,575.24 L725,576.17 L726,575.61 L727,576.59 L728,576.48 L729,575.67 L730,576.31 L731,576.53 L732,576.81 L733,576.9 L734,576.92 L735,577.62 L736,577.36 L737,577.84 L738,577.5 L739,577.65 L740,578.39 L741,577.67 L742,577.18 L743,577.2 L744,577.31 L745,576.7 L746,576.29 L747,576.44 L748,576.29 L749,575.69 L750,575.41 L751,575.14 L752,575.79 L753,574.26 L754,574.14 L755,572.89 L756,572.37 L757,570.96 L758,570.93 L759,570.2 L760,569.41 L761,568.53 L762,567.4 L763,566.51 L764,566.15 L765,565.06 L766,564.37 L767,563.5 L768,562.55 L769,561.63 L770,561.55 L771,560.45 L772,560.4 L773,560.24 L774,559.76 L775,559.59 L776,559.9 L777,559.7 L778,559.24 L779,559.94 L780,558.99 L781,558.89 L782,558.06 L783,558.4 L784,558.34 L785,557.51 L786,557.93 L787,556.94 L788,556.62 L789,556.71 L790,556.26 L791,556.53 L792,555.86 L793,556.05 L794,555.29 L795,555.69 L796,555.85 L797,555.3 L798,555.31 L799,555.38 L800,554.58 L801,554.36 L802,554.6 L803,554.5 L804,554.18 L805,553.81 L806,554.3 L807,553.44 L808,553.54 L809,553.45 L810,553.51 L811,552.99 L812,552.7 L813,553.35 L814,552.33 L815,552.63 L816,552.17 L817,551.89 L818,551.84 L819,551.6 L820,551.58 L821,550.56 L822,551.12 L823,550.97 L824,550.48 L825,550.47 L826,551.09 L827,550.77 L828,550.23 L829,549.93 L830,549.59 L831,549.91" fill="none" stroke="#000" stroke-width="3.0" stroke-linejoin="round" />
<path d="M504,581.31 L506.17,590.2 L507.39,578.23 L509.64,589.5 L511.59,574.39 L512.89,585.24 L515.64,575.45 L518.36,586.46 L520.56,572.53 L522.28,583.65 L523.58,576.56 L524.9,583.45 L526.95,573.8 L528.89,583.21 L530.32,575.05 L532.79,586.89 L534.07,570.04 L535.94,580.75 L537.97,572.08 L539.48,579.55 L540.74,570.36 L543.43,578.41 L545.07,569.28 L547.41,578.35 L549.65,566.83 L551.09,577.97 L553.74,568.72 L555.23,576.71 L557.73,566.19 L559.9,573.26 L562.61,565.45 L563.96,573.25 L565.98,564.71 L567.38,574.28 L569.98,560.96 L571.22,573.75 L573.41,563.62 L574.85,570.13 L576.96,560.56 L579.09,569.34 L581.18,558.19 L583.21,568.88 L585.7,561.38 L586.95,572.81 L589.65,560.37 L591.52,569.81 L593.28,553.58 L595.83,567.14 L597.08,554.23 L598.31,567.47 L601.09,556.93 L602.31,570.19 L604.27,557.93 L605.59,568.58 L607.78,555.2 L609.46,565.43 L611.88,554.55 L614.53,563.2 L616.82,553.39 L618.74,562.81 L621.34,550.89 L622.7,563.35 L624.11,552.22 L625.97,562.53 L628.03,552.1 L630.34,562.04 L632.4,550.46 L634.47,559.31 L636.96,550.92 L638.46,559.68 L640.14,549.16 L642.01,559.42 L644.27,545.58 L645.93,559.51 L647.38,547.61 L648.64,556.14 L651.29,549.12 L653.45,560.53 L655.14,547.97 L657.8,555.6 L660.29,549.25 L661.95,555.62 L664.37,547.69 L666.17,559.08 L667.63,547.11 L670.41,552.6 L671.93,547.92 L673.39,553.29 L674.72,545.99 L677.1,557.78 L679.73,544.54 L681.21,551.89 L682.92,543.36 L685.45,552.65 L687.03,543.18 L689.38,550.68 L690.61,541.91 L692.95,549.94 L694.27,541.44 L696.41,548.11 L698.19,540.64 L699.82,557.71 L701.2,566.93 L703.48,581.03 L706.09,571.02 L708.67,579.2 L711.15,569.91 L713.8,580.19 L716.17,569.68 L718.17,577.12 L720.72,570.24 L722.74,576.74 L725.49,572.42 L726.81,577.64 L729.29,571.57 L731.98,582.04 L734.27,571.32 L735.64,582.93 L737.15,573.04 L739.19,583.11 L741.5,572.01 L743.88,580.14 L745.1,574.69 L746.52,581.2 L748.22,572.09 L750.41,577.72 L752.1,571.57 L754.35,576.45 L756.7,567.98 L758.08,575.1 L759.38,565.64 L761.55,571.37 L764.17,562.68 L765.67,568.52 L767.44,560.17 L770.21,562.97 L772.21,559.7 L774.17,561.81 L775.52,553.78 L778.12,563.09 L779.8,555.29 L782.53,562.8 L784.76,557.09 L787.04,559.65 L789.25,554.52 L790.55,559.94 L792.53,553.28 L794.18,557.08 L796.77,552.35 L798.78,557.15 L801.09,550.8 L803.54,555.84 L805.31,551.18 L808.1,556.32 L809.56,550.03 L811.36,555.12 L813.85,549.97 L815.79,555.5 L817.27,546.7 L819.02,552.76 L820.88,549.48 L822.6,554.74 L824.27,549.31 L825.7,555.86 L827.58,546.81 L829.73,553.89" fill="none" stroke="#000" stroke-width="2.2" stroke-linejoin="round" />
<line x1="701" y1="512.7" x2="701" y2="537.7" stroke="#ee78ee" stroke-width="2"/>
<path d="M695.2,528.2 L701,537.7 L706.8,528.2" fill="none" stroke="#ee78ee" stroke-width="2"/>
<line x1="769.4" y1="533.7" x2="769.4" y2="557.2" stroke="#ee78ee" stroke-width="2"/>
<path d="M763.2,547.7 L769.4,557.2 L775.6,547.7" fill="none" stroke="#ee78ee" stroke-width="2"/>
<text x="668" y="519" font-size="20" text-anchor="start" fill="#222" stroke="#222" >R1</text>
<text x="719" y="525.9" font-size="20" text-anchor="start" fill="#222" stroke="#222" >grape seed oil</text>
<text x="875.2" y="489.4" font-size="27" text-anchor="start" fill="#222" stroke="#222" >F.</text>
<rect x="923" y="498.2" width="354.4" height="354" fill="none" stroke="#666" stroke-width="2"/>
<line x1="923" y1="533.6" x2="935.5" y2="533.6" stroke="#666" stroke-width="2"/>
<text x="913" y="540.62" font-size="19.5" text-anchor="end" fill="#222" stroke="#222" >-8</text>
<line x1="923" y1="580.8" x2="935.5" y2="580.8" stroke="#666" stroke-width="2"/>
<text x="913" y="587.82" font-size="19.5" text-anchor="end" fill="#222" stroke="#222" >-12</text>
<line x1="923" y1="628" x2="935.5" y2="628" stroke="#666" stroke-width="2"/>
<text x="913" y="635.02" font-size="19.5" text-anchor="end" fill="#222" stroke="#222" >-16</text>
<line x1="923" y1="675.2" x2="935.5" y2="675.2" stroke="#666" stroke-width="2"/>
<text x="913" y="682.22" font-size="19.5" text-anchor="end" fill="#222" stroke="#222" >-20</text>
<line x1="923" y1="722.4" x2="935.5" y2="722.4" stroke="#666" stroke-width="2"/>
<text x="913" y="729.42" font-size="19.5" text-anchor="end" fill="#222" stroke="#222" >-24</text>
<line x1="923" y1="769.6" x2="935.5" y2="769.6" stroke="#666" stroke-width="2"/>
<text x="913" y="776.62" font-size="19.5" text-anchor="end" fill="#222" stroke="#222" >-28</text>
<line x1="923" y1="816.8" x2="935.5" y2="816.8" stroke="#666" stroke-width="2"/>
<text x="913" y="823.82" font-size="19.5" text-anchor="end" fill="#222" stroke="#222" >-32</text>
<line x1="958.4" y1="852.2" x2="958.4" y2="839.7" stroke="#666" stroke-width="2"/>
<text x="958.4" y="880" font-size="20" text-anchor="middle" fill="#222" stroke="#222" >200</text>
<line x1="1029.32" y1="852.2" x2="1029.32" y2="839.7" stroke="#666" stroke-width="2"/>
<text x="1029.32" y="880" font-size="20" text-anchor="middle" fill="#222" stroke="#222" >400</text>
<line x1="1100.24" y1="852.2" x2="1100.24" y2="839.7" stroke="#666" stroke-width="2"/>
<text x="1100.24" y="880" font-size="20" text-anchor="middle" fill="#222" stroke="#222" >600</text>
<line x1="1171.16" y1="852.2" x2="1171.16" y2="839.7" stroke="#666" stroke-width="2"/>
<text x="1171.16" y="880" font-size="20" text-anchor="middle" fill="#222" stroke="#222" >800</text>
<line x1="1242.08" y1="852.2" x2="1242.08" y2="839.7" stroke="#666" stroke-width="2"/>
<text x="1242.08" y="880" font-size="20" text-anchor="middle" fill="#222" stroke="#222" >1000</text>
<text x="1100.3" y="924.4" font-size="21.7" text-anchor="middle" fill="#222" stroke="#222" >time/s</text>
<text x="0" y="0" font-size="21.8" text-anchor="middle" fill="#222" stroke="#222" transform="translate(877.4,671.7) rotate(-90)">I / &#181;A</text>
<path d="M923,563.38 L924,562.93 L925,562.87 L926,562.88 L927,562.44 L928,562.35 L929,562.11 L930,562.16 L931,562.29 L932,561.59 L933,561.13 L934,561.37 L935,561 L936,561.06 L937,560.94 L938,560.59 L939,560.25 L940,560.31 L941,559.69 L942,559.97 L943,559.47 L944,559.7 L945,559.44 L946,559.16 L947,558.7 L948,558.89 L949,558.5 L950,558.48 L951,558.55 L952,558.44 L953,557.62 L954,558.09 L955,558.04 L956,557.79 L957,557.37 L958,557.09 L959,557.45 L960,556.67 L961,556.14 L962,556.44 L963,556.32 L964,555.76 L965,555.52 L966,556.28 L967,555.56 L968,555.58 L969,555.01 L970,554.57 L971,554.85 L972,555.19 L973,554.5 L974,554.09 L975,554.45 L976,554.32 L977,554.3 L978,553.9 L979,554.01 L980,553.85 L981,554.16 L982,553.85 L983,553.96 L984,553.59 L985,552.88 L986,552.84 L987,553.46 L988,553.45 L989,553.36 L990,552.98 L991,552.38 L992,552.66 L993,552.82 L994,553 L995,552.4 L996,552.18 L997,551.94 L998,552.3 L999,552.09 L1000,551.15 L1001,551.86 L1002,544.91 L1003,541.51 L1004,541.37 L1005,541.49 L1006,542.26 L1007,542.22 L1008,541 L1009,541.04 L1010,541.17 L1011,541.12 L1012,540.88 L1013,540.57 L1014,540.94 L1015,540.87 L1016,540.58 L1017,541.15 L1018,540.7 L1019,540.63 L1020,541.59 L1021,541.45 L1022,541.61 L1023,541.24 L1024,541.11 L1025,541.22 L1026,540.87 L1027,541.49 L1028,541.37 L1029,541.22 L1030,540.79 L1031,541.31 L1032,541.83 L1033,541.8 L1034,541.65 L1035,541.31 L1036,541.47 L1037,541.61 L1038,541.52 L1039,541.79 L1040,541.31 L1041,540.83 L1042,540.83 L1043,541.27 L1044,541.15 L1045,541.75 L1046,541.88 L1047,541.58 L1048,541.75 L1049,541.63 L1050,541.67 L1051,541.49 L1052,541.52 L1053,542 L1054,541.59 L1055,541.66 L1056,542.03 L1057,541.98 L1058,541.6 L1059,541.79 L1060,541.44 L1061,541.78 L1062,541.84 L1063,541.76 L1064,541.82 L1065,541.89 L1066,541.07" fill="none" stroke="#000" stroke-width="3.0" stroke-linejoin="round" />
<path d="M923,560.16 L923.7,560.3 L924.4,560.39 L925.1,560.84 L925.8,560.79 L926.5,560.18 L927.2,560.97 L927.9,560.05 L928.6,559.72 L929.3,556.03 L930,557.5 L930.7,559.09 L931.4,558.96 L932.1,560.79 L932.8,559.5 L933.5,559.57 L934.2,558.24 L934.9,555.02 L935.6,560.13 L936.3,559.1 L937,560.08 L937.7,558.19 L938.4,556.48 L939.1,555.62 L939.8,557.96 L940.5,558.49 L941.2,557.93 L941.9,557.76 L942.6,559.79 L943.3,556.16 L944,557.03 L944.7,557.83 L945.4,555.4 L946.1,558.43 L946.8,555.01 L947.5,558.34 L948.2,553.78 L948.9,556.28 L949.6,553.01 L950.3,556.75 L951,556.5 L951.7,556.54 L952.4,553.18 L953.1,554.07 L953.8,556.29 L954.5,555.01 L955.2,555.72 L955.9,554.8 L956.6,554.08 L957.3,555.16 L958,556.54 L958.7,554.01 L959.4,552.63 L960.1,554 L960.8,556.7 L961.5,552.76 L962.2,551.46 L962.9,553.94 L963.6,553.17 L964.3,550.03 L965,553.67 L965.7,554.05 L966.4,552.47 L967.1,553.11 L967.8,552.51 L968.5,553.68 L969.2,552.41 L969.9,552.04 L970.6,553.46 L971.3,553.32 L972,554.43 L972.7,552.63 L973.4,553.66 L974.1,552.5 L974.8,553.14 L975.5,551.36 L976.2,552.77 L976.9,551.82 L977.6,551.97 L978.3,550.28 L979,550.85 L979.7,550.65 L980.4,551.02 L981.1,549.84 L981.8,551.7 L982.5,549.62 L983.2,552.03 L983.9,548.19 L984.6,546.81 L985.3,550.59 L986,550.68 L986.7,550.98 L987.4,551.44 L988.1,550.89 L988.8,551.6 L989.5,546.74 L990.2,550.62 L990.9,550.72 L991.6,547.19 L992.3,549.75 L993,550.64 L993.7,550.57 L994.4,551.55 L995.1,551.48 L995.8,550.67 L996.5,550.26 L997.2,541.53 L997.9,548.98 L998.6,549.15 L999.3,550.28 L1000,547.9 L1000.7,543.3 L1001.4,545.48 L1002.1,540.22 L1002.8,533.12 L1003.5,536.92 L1004.2,540.23 L1004.9,532.6 L1005.6,535.21 L1006.3,539.99 L1007,533.16 L1007.7,540.01 L1008.4,538.35 L1009.1,539.17 L1009.8,538.35 L1010.5,538.97 L1011.2,537.87 L1011.9,536.37 L1012.6,539.39 L1013.3,538.66 L1014,538.28 L1014.7,539.15 L1015.4,537.17 L1016.1,539.58 L1016.8,537.68 L1017.5,538.43 L1018.2,539.84 L1018.9,537.07 L1019.6,539.27 L1020.3,539.8 L1021,538.58 L1021.7,538.03 L1022.4,539.67 L1023.1,535.93 L1023.8,539.51 L1024.5,538.47 L1025.2,538.92 L1025.9,539.66 L1026.6,535.03 L1027.3,538.69 L1028,538.3 L1028.7,540 L1029.4,537.98 L1030.1,539.1 L1030.8,539.29 L1031.5,537.84 L1032.2,537.72 L1032.9,536.69 L1033.6,539.44 L1034.3,539.35 L1035,536.08 L1035.7,538.73 L1036.4,538.32 L1037.1,537.54 L1037.8,539.63 L1038.5,539.48 L1039.2,536.77 L1039.9,538.5 L1040.6,535.63 L1041.3,539.82 L1042,540.81 L1042.7,538.65 L1043.4,536.75 L1044.1,538.82 L1044.8,540.32 L1045.5,538.52 L1046.2,538.38 L1046.9,539.55 L1047.6,538 L1048.3,540.76 L1049,538.87 L1049.7,539.49 L1050.4,538.61 L1051.1,538.54 L1051.8,539.11 L1052.5,540.41 L1053.2,539.78 L1053.9,539.25 L1054.6,539.02 L1055.3,540.98 L1056,537.08 L1056.7,539.02 L1057.4,539.86 L1058.1,539.56 L1058.8,539.36 L1059.5,540.59 L1060.2,540.37 L1060.9,538.76 L1061.6,539.47 L1062.3,539.74 L1063,538.37 L1063.7,539.89 L1064.4,539.52 L1065.1,539.7 L1065.8,537.54 L1065.8,542.98 L1065.1,544.24 L1064.4,548.11 L1063.7,542.42 L1063,544.58 L1062.3,544.6 L1061.6,544.73 L1060.9,543.09 L1060.2,546.5 L1059.5,544.28 L1058.8,544.27 L1058.1,544.26 L1057.4,543.54 L1056.7,543.57 L1056,545.03 L1055.3,545.3 L1054.6,544.75 L1053.9,543.57 L1053.2,545.13 L1052.5,542.91 L1051.8,542.7 L1051.1,543.59 L1050.4,546.63 L1049.7,544.81 L1049,542.86 L1048.3,543.36 L1047.6,546.82 L1046.9,544.26 L1046.2,544.94 L1045.5,542.52 L1044.8,543.67 L1044.1,544.97 L1043.4,543.78 L1042.7,546.39 L1042,541.93 L1041.3,543.39 L1040.6,545.35 L1039.9,544.49 L1039.2,543.38 L1038.5,544.3 L1037.8,543.66 L1037.1,542.77 L1036.4,543.32 L1035.7,543.66 L1035,547.14 L1034.3,544.05 L1033.6,543.82 L1032.9,542.72 L1032.2,543.6 L1031.5,544.23 L1030.8,543.46 L1030.1,543.08 L1029.4,545.99 L1028.7,544.02 L1028,543.06 L1027.3,543.69 L1026.6,543.53 L1025.9,546.04 L1025.2,547.22 L1024.5,542 L1023.8,546.94 L1023.1,541.51 L1022.4,543.6 L1021.7,543.15 L1021,542.64 L1020.3,543.42 L1019.6,543.7 L1018.9,542.89 L1018.2,542.44 L1017.5,542.09 L1016.8,542.47 L1016.1,544.55 L1015.4,543.71 L1014.7,543.12 L1014,545.6 L1013.3,542.76 L1012.6,543.68 L1011.9,548.35 L1011.2,549.44 L1010.5,550.57 L1009.8,545.44 L1009.1,542.36 L1008.4,543.36 L1007.7,543.54 L1007,546.89 L1006.3,545.63 L1005.6,543.14 L1004.9,542.85 L1004.2,544.16 L1003.5,543.54 L1002.8,542.38 L1002.1,545.59 L1001.4,549.49 L1000.7,553.37 L1000,553.07 L999.3,559.17 L998.6,553.49 L997.9,554.12 L997.2,554.35 L996.5,551.95 L995.8,559.24 L995.1,554.14 L994.4,553.53 L993.7,554.13 L993,553.99 L992.3,553.95 L991.6,554.61 L990.9,555.86 L990.2,557.7 L989.5,554.47 L988.8,554.9 L988.1,554.12 L987.4,556.35 L986.7,554.75 L986,556.35 L985.3,555.12 L984.6,555.94 L983.9,558.63 L983.2,556.21 L982.5,554.94 L981.8,555.18 L981.1,558.67 L980.4,555.55 L979.7,558.39 L979,556.16 L978.3,555.97 L977.6,555.54 L976.9,556.46 L976.2,557.27 L975.5,557.66 L974.8,556.35 L974.1,557.21 L973.4,557.45 L972.7,558.82 L972,556.84 L971.3,558.32 L970.6,557.06 L969.9,556.55 L969.2,557.27 L968.5,556.31 L967.8,559.54 L967.1,558.96 L966.4,558.18 L965.7,558.57 L965,559.14 L964.3,558.14 L963.6,559.34 L962.9,559.74 L962.2,557.91 L961.5,558.11 L960.8,558.92 L960.1,557.69 L959.4,558.93 L958.7,558.32 L958,559.66 L957.3,559.31 L956.6,559.16 L955.9,562.93 L955.2,560.88 L954.5,563.52 L953.8,559.11 L953.1,558.79 L952.4,562.63 L951.7,559.05 L951,560.53 L950.3,558.66 L949.6,561.24 L948.9,561.34 L948.2,562.47 L947.5,561.37 L946.8,560.33 L946.1,561.84 L945.4,562.34 L944.7,561.27 L944,559.85 L943.3,564.68 L942.6,562.52 L941.9,560.8 L941.2,562.12 L940.5,563.6 L939.8,562.53 L939.1,566.24 L938.4,563.98 L937.7,562.93 L937,562.42 L936.3,561.77 L935.6,562.26 L934.9,562.68 L934.2,563.16 L933.5,564.21 L932.8,563.5 L932.1,564.35 L931.4,563.8 L930.7,563.75 L930,564.13 L929.3,562.68 L928.6,565.33 L927.9,568.25 L927.2,565.03 L926.5,563.7 L925.8,563.4 L925.1,565.56 L924.4,564.07 L923.7,566.33 L923,565.27 Z" fill="#000" stroke="#000" stroke-width="0.5" stroke-linejoin="round"/>
<line x1="1066.6" y1="542" x2="1068.2" y2="602" stroke="#111" stroke-width="1.6"/>
<path d="M1067.8,602.86 L1068.8,600.46 L1069.8,599.18 L1070.8,599.28 L1071.8,598.8 L1072.8,597.96 L1073.8,598.4 L1074.8,598 L1075.8,597.92 L1076.8,596.79 L1077.8,596.72 L1078.8,597.67 L1079.8,597.14 L1080.8,596.55 L1081.8,596.85 L1082.8,596.68 L1083.8,596.34 L1084.8,596.08 L1085.8,595.99 L1086.8,596.01 L1087.8,595.36 L1088.8,595.54 L1089.8,595.62 L1090.8,595.42 L1091.8,594.77 L1092.8,594.62 L1093.8,594.74 L1094.8,594.99 L1095.8,594.56 L1096.8,594.28 L1097.8,593.82 L1098.8,594.12 L1099.8,594.67 L1100.8,593.51 L1101.8,594.24 L1102.8,592.6 L1103.8,592.65 L1104.8,593.19 L1105.8,592.2 L1106.8,592.07 L1107.8,592.29 L1108.8,591.33 L1109.8,591.24 L1110.8,590.71 L1111.8,591.32 L1112.8,590.81 L1113.8,590.83 L1114.8,590.32 L1115.8,590.12 L1116.8,589.85 L1117.8,589.86 L1118.8,589.29 L1119.8,589.38 L1120.8,589.03 L1121.8,589.68 L1122.8,588.81 L1123.8,589.01 L1124.8,589.26 L1125.8,589.07 L1126.8,589 L1127.8,588.74 L1128.8,588.71 L1129.8,588.38 L1130.8,588.16 L1131.8,588.13 L1132.8,587.91 L1133.8,587.55 L1134.8,588.36 L1135.8,587.2 L1136.8,588.07 L1137.8,587.64 L1138.8,588.24 L1139.8,587.71 L1140.8,587.72 L1141.8,588.06 L1142.8,587.24 L1143.8,587.75 L1144.8,588.37 L1145.8,588.25 L1146.8,587.71 L1147.8,587.57 L1148.8,587.7 L1149.8,588.12 L1150.8,587.59 L1151.8,588.27 L1152.8,587.58 L1153.8,588.21 L1154.8,588.16 L1155.8,588 L1156.8,588.82 L1157.8,588.22 L1158.8,588.35 L1159.8,588.69 L1160.8,588.02 L1161.8,588.34 L1162.8,588.56 L1163.8,588.29 L1164.8,588.2 L1165.8,588.25 L1166.8,588.57 L1167.8,588.36 L1168.8,588.73 L1169.8,588.05 L1170.8,588.66 L1171.8,589.53 L1172.8,589.38 L1173.8,590.57 L1174.8,590.83 L1175.8,591.11 L1176.8,590.42 L1177.8,590.43 L1178.8,589.79 L1179.8,590.25 L1180.8,589.88 L1181.8,589.95 L1182.8,589.7 L1183.8,590.22 L1184.8,589.91 L1185.8,590.15 L1186.8,589.56 L1187.8,589.7 L1188.8,590.03 L1189.8,590.31 L1190.8,590.33 L1191.8,589.97 L1192.8,590 L1193.8,589.87 L1194.8,589.33 L1195.8,589.52 L1196.8,589.14 L1197.8,589.11 L1198.8,589.49 L1199.8,589.6 L1200.8,589.69 L1201.8,590.09 L1202.8,589.09 L1203.8,589.21 L1204.8,589.3 L1205.8,589.67 L1206.8,589.36 L1207.8,589.14 L1208.8,589.65 L1209.8,589.41 L1210.8,589.25 L1211.8,589.88 L1212.8,589.78 L1213.8,589.31 L1214.8,589.53 L1215.8,589.36 L1216.8,589.33 L1217.8,589.29 L1218.8,589.41 L1219.8,589.26 L1220.8,589.59 L1221.8,589.72 L1222.8,589.42 L1223.8,589.03 L1224.8,589.76 L1225.8,589.34 L1226.8,590 L1227.8,589.72 L1228.8,589.48 L1229.8,589.98 L1230.8,589.18 L1231.8,589.52 L1232.8,589.71 L1233.8,589.54 L1234.8,589.5 L1235.8,589.17 L1236.8,589.9 L1237.8,589.13 L1238.8,588.66" fill="none" stroke="#000" stroke-width="3.0" stroke-linejoin="round" />
<path d="M1067.8,600.54 L1068.5,599.16 L1069.2,598.47 L1069.9,597.68 L1070.6,597.14 L1071.3,597.54 L1072,596.64 L1072.7,595.45 L1073.4,595.61 L1074.1,596.27 L1074.8,595.5 L1075.5,596.36 L1076.2,595.86 L1076.9,595.4 L1077.6,594.88 L1078.3,595.07 L1079,594.86 L1079.7,594.59 L1080.4,594.65 L1081.1,594.35 L1081.8,596.34 L1082.5,593.77 L1083.2,593.94 L1083.9,592.95 L1084.6,594.46 L1085.3,591.11 L1086,594.17 L1086.7,593.96 L1087.4,593.95 L1088.1,594.54 L1088.8,593.86 L1089.5,593.62 L1090.2,592.27 L1090.9,592.58 L1091.6,592.49 L1092.3,593.12 L1093,592.88 L1093.7,593.37 L1094.4,592.84 L1095.1,592.2 L1095.8,592.37 L1096.5,591.85 L1097.2,593.11 L1097.9,591.88 L1098.6,591.89 L1099.3,592.65 L1100,590.99 L1100.7,592.19 L1101.4,590.75 L1102.1,591.58 L1102.8,590.67 L1103.5,591.26 L1104.2,589.79 L1104.9,590.71 L1105.6,590.98 L1106.3,589.98 L1107,589.65 L1107.7,589.22 L1108.4,587.34 L1109.1,589.09 L1109.8,589.2 L1110.5,589.56 L1111.2,588.99 L1111.9,589.6 L1112.6,588.35 L1113.3,588.72 L1114,588.41 L1114.7,587.92 L1115.4,588.26 L1116.1,587.37 L1116.8,587.11 L1117.5,586.98 L1118.2,587.32 L1118.9,587.24 L1119.6,587.29 L1120.3,586.93 L1121,587.56 L1121.7,587.97 L1122.4,587.37 L1123.1,586.15 L1123.8,587.69 L1124.5,586.68 L1125.2,586.47 L1125.9,586.43 L1126.6,586.36 L1127.3,587.22 L1128,584.83 L1128.7,587.5 L1129.4,586 L1130.1,586.5 L1130.8,586.07 L1131.5,585.7 L1132.2,585.93 L1132.9,585.92 L1133.6,585.62 L1134.3,586.92 L1135,585.98 L1135.7,586.35 L1136.4,586.58 L1137.1,582.55 L1137.8,585.23 L1138.5,585.07 L1139.2,585.28 L1139.9,583.47 L1140.6,586.08 L1141.3,586.13 L1142,584.51 L1142.7,585.5 L1143.4,585.55 L1144.1,585.46 L1144.8,585.93 L1145.5,585.72 L1146.2,586.39 L1146.9,585.26 L1147.6,584.83 L1148.3,585.63 L1149,583.01 L1149.7,583.25 L1150.4,585.44 L1151.1,585.27 L1151.8,585.48 L1152.5,585.42 L1153.2,586.11 L1153.9,586.32 L1154.6,585.24 L1155.3,586.49 L1156,585.46 L1156.7,585.29 L1157.4,584.93 L1158.1,585.59 L1158.8,586.34 L1159.5,585.78 L1160.2,587.1 L1160.9,586.75 L1161.6,586.38 L1162.3,584.65 L1163,585.93 L1163.7,585.76 L1164.4,586.38 L1165.1,585.75 L1165.8,586.59 L1166.5,587.42 L1167.2,586.19 L1167.9,585.74 L1168.6,586.07 L1169.3,586.83 L1170,584.95 L1170.7,586.49 L1171.4,587.32 L1172.1,588.02 L1172.8,587.47 L1173.5,585.19 L1174.2,588.81 L1174.9,589.4 L1175.6,588.66 L1176.3,586.47 L1177,588.88 L1177.7,588.23 L1178.4,585.31 L1179.1,588.6 L1179.8,588.1 L1180.5,587.81 L1181.2,585.46 L1181.9,585.3 L1182.6,586.31 L1183.3,587.95 L1184,588.05 L1184.7,588.21 L1185.4,587.98 L1186.1,587.43 L1186.8,587.81 L1187.5,587.71 L1188.2,586.99 L1188.9,588 L1189.6,587.76 L1190.3,587.26 L1191,587.07 L1191.7,587.66 L1192.4,586.96 L1193.1,586.76 L1193.8,586.56 L1194.5,587.62 L1195.2,587.27 L1195.9,587.52 L1196.6,587.64 L1197.3,586.3 L1198,587.63 L1198.7,587.65 L1199.4,588.06 L1200.1,587.08 L1200.8,587.21 L1201.5,588.6 L1202.2,587.02 L1202.9,587.97 L1203.6,588.11 L1204.3,587.67 L1205,586.76 L1205.7,587.66 L1206.4,587.87 L1207.1,588.62 L1207.8,587.01 L1208.5,586.99 L1209.2,587.43 L1209.9,587.65 L1210.6,587.9 L1211.3,586.28 L1212,585.23 L1212.7,586.43 L1213.4,587.89 L1214.1,587.01 L1214.8,586.63 L1215.5,587.32 L1216.2,587.2 L1216.9,585.98 L1217.6,587.97 L1218.3,584.87 L1219,587.66 L1219.7,588.38 L1220.4,587.14 L1221.1,587.25 L1221.8,587.01 L1222.5,588.55 L1223.2,588.06 L1223.9,587.06 L1224.6,588.29 L1225.3,587.83 L1226,588.32 L1226.7,587.66 L1227.4,587.18 L1228.1,585.73 L1228.8,587.73 L1229.5,587.09 L1230.2,587.96 L1230.9,588.11 L1231.6,587.29 L1232.3,588.03 L1233,587.41 L1233.7,587.48 L1234.4,587.81 L1235.1,586.24 L1235.8,587.48 L1236.5,587.32 L1237.2,587.01 L1237.9,588.24 L1238.6,587.34 L1238.6,591.74 L1237.9,590.95 L1237.2,592.02 L1236.5,592.44 L1235.8,592.91 L1235.1,591.29 L1234.4,591.91 L1233.7,591.15 L1233,591.62 L1232.3,590.71 L1231.6,591.96 L1230.9,591.32 L1230.2,590.96 L1229.5,591.1 L1228.8,591.71 L1228.1,591.11 L1227.4,591.16 L1226.7,591.42 L1226,591.26 L1225.3,590.28 L1224.6,591.1 L1223.9,591.83 L1223.2,591.11 L1222.5,591.75 L1221.8,592.07 L1221.1,591.21 L1220.4,592.31 L1219.7,591.23 L1219,591.43 L1218.3,591.06 L1217.6,594.13 L1216.9,590.86 L1216.2,592.24 L1215.5,591.15 L1214.8,592.52 L1214.1,591.86 L1213.4,591.28 L1212.7,591.29 L1212,594.21 L1211.3,591.77 L1210.6,591.74 L1209.9,592.45 L1209.2,590.86 L1208.5,592.05 L1207.8,591.75 L1207.1,591.67 L1206.4,591.69 L1205.7,591.29 L1205,590.92 L1204.3,591.9 L1203.6,591.7 L1202.9,591.02 L1202.2,590.38 L1201.5,592.18 L1200.8,590.72 L1200.1,592.16 L1199.4,591.31 L1198.7,591.43 L1198,591.7 L1197.3,592.15 L1196.6,591.45 L1195.9,591.69 L1195.2,591.59 L1194.5,591.67 L1193.8,591.65 L1193.1,591.5 L1192.4,592.65 L1191.7,591.63 L1191,592.02 L1190.3,591.56 L1189.6,593.65 L1188.9,591.1 L1188.2,591.35 L1187.5,592.21 L1186.8,592.44 L1186.1,591.25 L1185.4,592.63 L1184.7,591.48 L1184,591.3 L1183.3,594.18 L1182.6,591.85 L1181.9,592.27 L1181.2,592.43 L1180.5,591.64 L1179.8,592.32 L1179.1,596.11 L1178.4,592.97 L1177.7,592.11 L1177,592.43 L1176.3,597.73 L1175.6,593.27 L1174.9,592.3 L1174.2,592.49 L1173.5,595.99 L1172.8,591.5 L1172.1,591 L1171.4,590.73 L1170.7,591.32 L1170,591.04 L1169.3,590.69 L1168.6,589.96 L1167.9,591.53 L1167.2,589.89 L1166.5,592.16 L1165.8,591.59 L1165.1,590.36 L1164.4,590.16 L1163.7,589.82 L1163,591.83 L1162.3,589.87 L1161.6,590.64 L1160.9,589.7 L1160.2,589.49 L1159.5,590.11 L1158.8,590.73 L1158.1,591 L1157.4,593.28 L1156.7,590.72 L1156,590.79 L1155.3,589.98 L1154.6,590.15 L1153.9,589.87 L1153.2,589.66 L1152.5,590.18 L1151.8,589.36 L1151.1,591.36 L1150.4,590.54 L1149.7,590.12 L1149,590.59 L1148.3,589.79 L1147.6,589.41 L1146.9,590.97 L1146.2,590.6 L1145.5,590.42 L1144.8,589.78 L1144.1,589.17 L1143.4,590.41 L1142.7,589.47 L1142,589.44 L1141.3,590.15 L1140.6,589.98 L1139.9,589.68 L1139.2,590.13 L1138.5,590.16 L1137.8,591.56 L1137.1,588.87 L1136.4,590.16 L1135.7,590.52 L1135,589.53 L1134.3,589.75 L1133.6,590.64 L1132.9,589.8 L1132.2,589.8 L1131.5,590.8 L1130.8,589.46 L1130.1,591.11 L1129.4,591.84 L1128.7,590.61 L1128,590.88 L1127.3,591.03 L1126.6,589.69 L1125.9,590.84 L1125.2,590.65 L1124.5,591.95 L1123.8,591.07 L1123.1,591.81 L1122.4,591.46 L1121.7,591.85 L1121,591.26 L1120.3,592.73 L1119.6,591.57 L1118.9,592.16 L1118.2,591.13 L1117.5,591.35 L1116.8,591.97 L1116.1,592.13 L1115.4,592.54 L1114.7,593.51 L1114,592.46 L1113.3,593.73 L1112.6,592.63 L1111.9,592.17 L1111.2,592.83 L1110.5,593.95 L1109.8,597.97 L1109.1,600.58 L1108.4,594 L1107.7,598.59 L1107,594.3 L1106.3,595.8 L1105.6,601.62 L1104.9,601.45 L1104.2,602.29 L1103.5,601.77 L1102.8,595.17 L1102.1,595.09 L1101.4,595.7 L1100.7,596.29 L1100,596.93 L1099.3,598.26 L1098.6,596.35 L1097.9,596.67 L1097.2,596.45 L1096.5,595.4 L1095.8,596.62 L1095.1,597.82 L1094.4,596.35 L1093.7,596.99 L1093,597.63 L1092.3,597.21 L1091.6,596.98 L1090.9,597.79 L1090.2,598.07 L1089.5,599.77 L1088.8,597.82 L1088.1,598.31 L1087.4,598.15 L1086.7,598.61 L1086,600.86 L1085.3,598.07 L1084.6,597.99 L1083.9,597.48 L1083.2,599.85 L1082.5,599.49 L1081.8,599.35 L1081.1,598.17 L1080.4,598.77 L1079.7,598.94 L1079,600.12 L1078.3,600.14 L1077.6,599.04 L1076.9,599.99 L1076.2,600.26 L1075.5,599.4 L1074.8,599.92 L1074.1,600.11 L1073.4,602.2 L1072.7,600.86 L1072,600.97 L1071.3,601.48 L1070.6,601.6 L1069.9,601.6 L1069.2,601.54 L1068.5,603.82 L1067.8,608.44 Z" fill="#000" stroke="#000" stroke-width="0.5" stroke-linejoin="round"/>
<path d="M1099.5,594 L1101.5,604 L1103,597 L1104.5,609 L1106,598 L1107.5,606 L1109.5,596 L1111.5,603 L1113,593" fill="none" stroke="#000" stroke-width="2.2" stroke-linejoin="round" />
<path d="M1169.5,589 L1171.5,600 L1173,592 L1174.5,610 L1176,596 L1177.5,606 L1179.5,594 L1181.5,600 L1183,591" fill="none" stroke="#000" stroke-width="2.2" stroke-linejoin="round" />
<line x1="1067.2" y1="515" x2="1067.2" y2="540" stroke="#ee78ee" stroke-width="2"/>
<path d="M1061,530 L1067.2,540 L1073.4,530" fill="none" stroke="#ee78ee" stroke-width="2"/>
<line x1="1100" y1="566.6" x2="1100" y2="591.6" stroke="#ee78ee" stroke-width="2"/>
<path d="M1093.5,580.6 L1100,591.6 L1106.5,580.6" fill="none" stroke="#ee78ee" stroke-width="2"/>
<line x1="1139.5" y1="561" x2="1139.5" y2="586" stroke="#ee78ee" stroke-width="2"/>
<path d="M1133,575 L1139.5,586 L1146,575" fill="none" stroke="#ee78ee" stroke-width="2"/>
<line x1="1177" y1="567.3" x2="1177" y2="591.6" stroke="#ee78ee" stroke-width="2"/>
<path d="M1170.5,580.6 L1177,591.6 L1183.5,580.6" fill="none" stroke="#ee78ee" stroke-width="2"/>
<line x1="1209.9" y1="565.3" x2="1209.9" y2="588.7" stroke="#ee78ee" stroke-width="2"/>
<path d="M1203.4,577.7 L1209.9,588.7 L1216.4,577.7" fill="none" stroke="#ee78ee" stroke-width="2"/>
<text x="1068.8" y="516.6" font-size="19.5" text-anchor="start" fill="#222" stroke="#222" >R2</text>
<text x="1094.6" y="562.7" font-size="21.5" text-anchor="start" fill="#222" stroke="#222" >a</text>
<text x="1130.6" y="556.4" font-size="21.5" text-anchor="start" fill="#222" stroke="#222" >b</text>
<text x="1168.8" y="558" font-size="21.5" text-anchor="start" fill="#222" stroke="#222" >c</text>
<text x="1202.4" y="558.9" font-size="21.5" text-anchor="start" fill="#222" stroke="#222" >d</text>
</g>
</svg></body></html>
